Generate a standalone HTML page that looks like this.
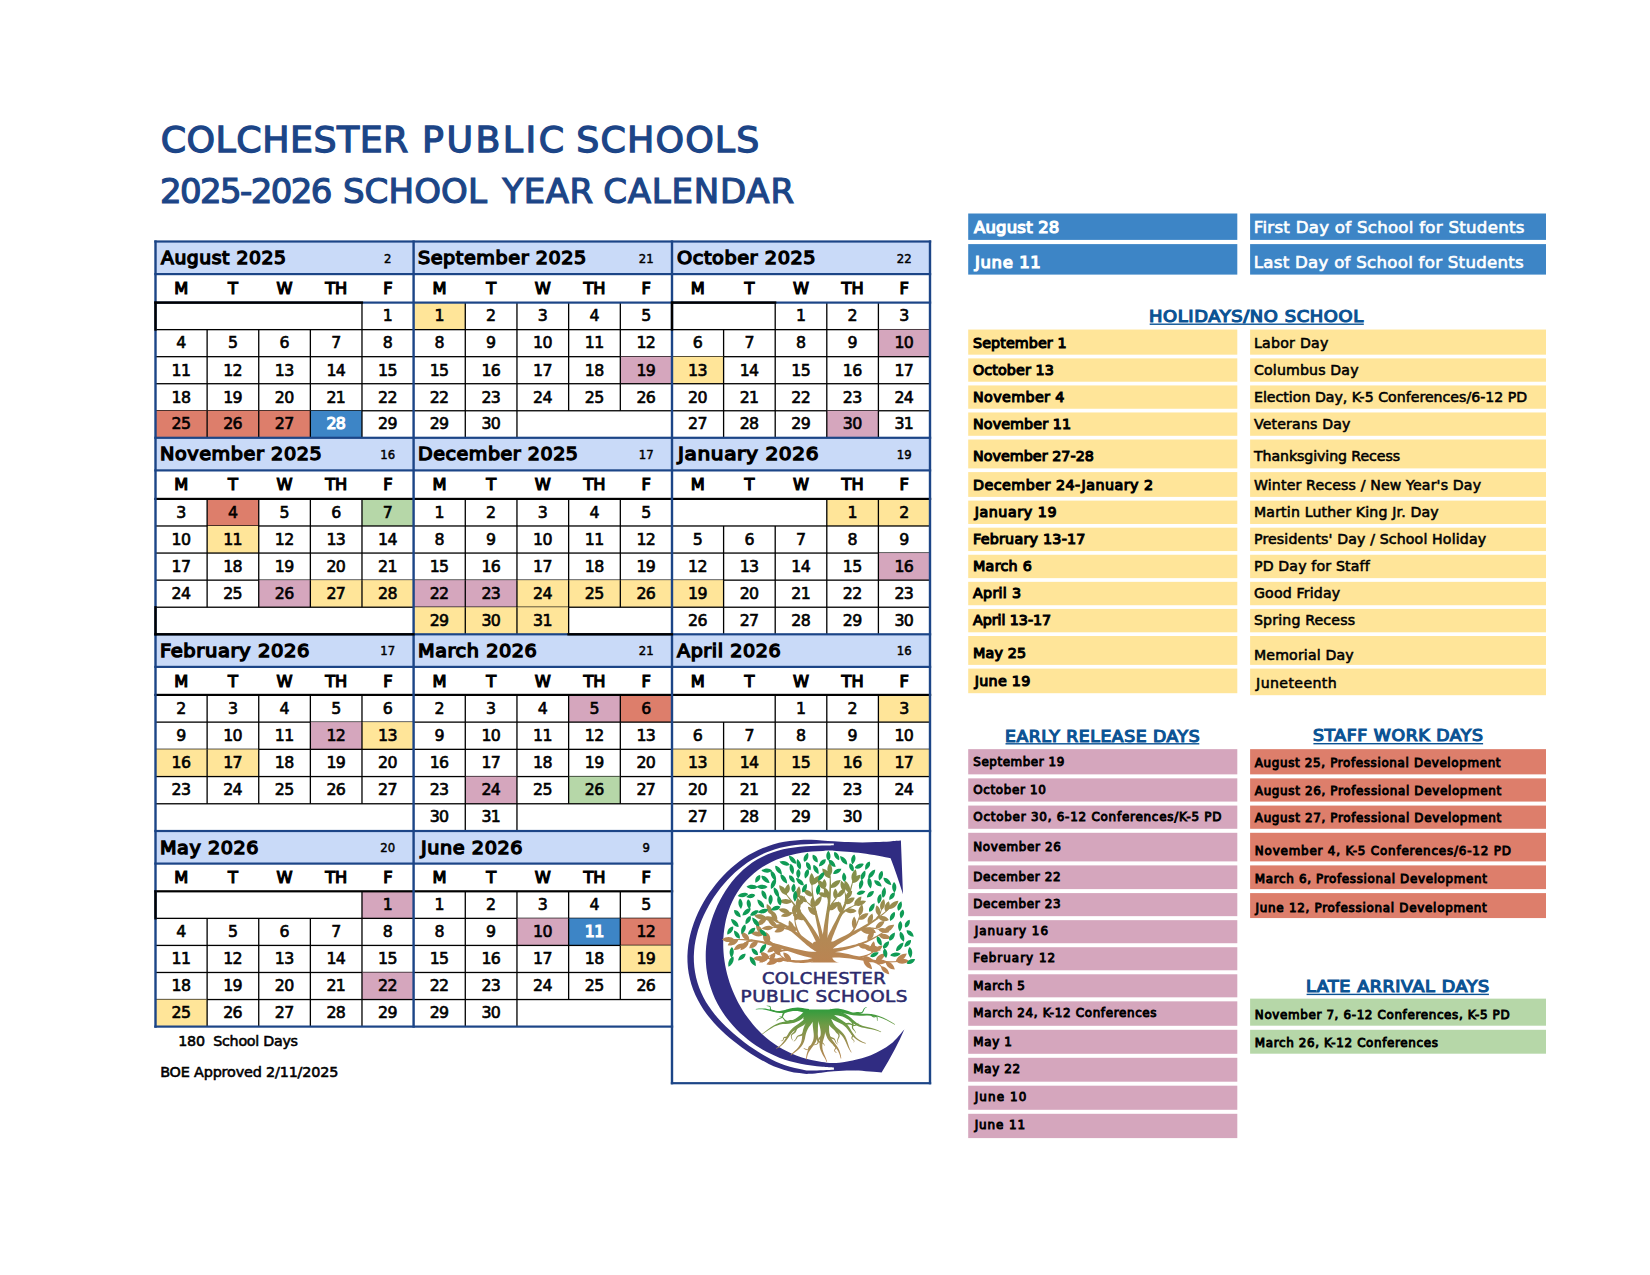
<!DOCTYPE html>
<html lang="en"><head><meta charset="utf-8">
<title>Colchester Public Schools 2025-2026 School Year Calendar</title>
<style>
html,body{margin:0;padding:0;background:#fff;}
body{width:1650px;height:1275px;position:relative;overflow:hidden;font-family:"DejaVu Sans", "Liberation Sans", sans-serif;color:#000;}
#shapes{position:absolute;left:0;top:0;}
.t{position:absolute;white-space:pre;margin:0;padding:0;font-weight:normal;display:block;}
h1.hd{margin:0;padding:0;font-size:0;font-weight:normal;}
.sec{text-decoration-thickness:1.4px;text-underline-offset:1.6px;}
#logo{position:absolute;left:660px;top:820px;}
</style></head><body>
<svg id="shapes" width="1650" height="1275" viewBox="0 0 1650 1275">
<rect x="155.50" y="241.50" width="258.10" height="32.60" fill="#c9daf8"/>
<rect x="155.50" y="328.99" width="258.10" height="1.30" fill="#000"/>
<rect x="361.33" y="302.60" width="1.30" height="27.04" fill="#000"/>
<rect x="155.50" y="356.03" width="258.10" height="1.30" fill="#000"/>
<rect x="206.47" y="329.64" width="1.30" height="27.04" fill="#000"/>
<rect x="258.09" y="329.64" width="1.30" height="27.04" fill="#000"/>
<rect x="309.71" y="329.64" width="1.30" height="27.04" fill="#000"/>
<rect x="361.33" y="329.64" width="1.30" height="27.04" fill="#000"/>
<rect x="155.50" y="383.07" width="258.10" height="1.30" fill="#000"/>
<rect x="206.47" y="356.68" width="1.30" height="27.04" fill="#000"/>
<rect x="258.09" y="356.68" width="1.30" height="27.04" fill="#000"/>
<rect x="309.71" y="356.68" width="1.30" height="27.04" fill="#000"/>
<rect x="361.33" y="356.68" width="1.30" height="27.04" fill="#000"/>
<rect x="155.50" y="410.11" width="258.10" height="1.30" fill="#000"/>
<rect x="206.47" y="383.72" width="1.30" height="27.04" fill="#000"/>
<rect x="258.09" y="383.72" width="1.30" height="27.04" fill="#000"/>
<rect x="309.71" y="383.72" width="1.30" height="27.04" fill="#000"/>
<rect x="361.33" y="383.72" width="1.30" height="27.04" fill="#000"/>
<rect x="155.50" y="410.76" width="51.62" height="27.04" fill="#dd7e6b"/>
<rect x="207.12" y="410.76" width="51.62" height="27.04" fill="#dd7e6b"/>
<rect x="258.74" y="410.76" width="51.62" height="27.04" fill="#dd7e6b"/>
<rect x="310.36" y="410.76" width="51.62" height="27.04" fill="#3d85c6"/>
<rect x="206.47" y="410.76" width="1.30" height="27.04" fill="#000"/>
<rect x="258.09" y="410.76" width="1.30" height="27.04" fill="#000"/>
<rect x="309.71" y="410.76" width="1.30" height="27.04" fill="#000"/>
<rect x="361.33" y="410.76" width="1.30" height="27.04" fill="#000"/>
<rect x="413.60" y="241.50" width="258.40" height="32.60" fill="#c9daf8"/>
<rect x="413.60" y="302.60" width="51.68" height="27.04" fill="#ffe599"/>
<rect x="413.60" y="328.99" width="258.40" height="1.30" fill="#000"/>
<rect x="464.63" y="302.60" width="1.30" height="27.04" fill="#000"/>
<rect x="516.31" y="302.60" width="1.30" height="27.04" fill="#000"/>
<rect x="567.99" y="302.60" width="1.30" height="27.04" fill="#000"/>
<rect x="619.67" y="302.60" width="1.30" height="27.04" fill="#000"/>
<rect x="413.60" y="356.03" width="258.40" height="1.30" fill="#000"/>
<rect x="464.63" y="329.64" width="1.30" height="27.04" fill="#000"/>
<rect x="516.31" y="329.64" width="1.30" height="27.04" fill="#000"/>
<rect x="567.99" y="329.64" width="1.30" height="27.04" fill="#000"/>
<rect x="619.67" y="329.64" width="1.30" height="27.04" fill="#000"/>
<rect x="620.32" y="356.68" width="51.68" height="27.04" fill="#d5a6bd"/>
<rect x="413.60" y="383.07" width="258.40" height="1.30" fill="#000"/>
<rect x="464.63" y="356.68" width="1.30" height="27.04" fill="#000"/>
<rect x="516.31" y="356.68" width="1.30" height="27.04" fill="#000"/>
<rect x="567.99" y="356.68" width="1.30" height="27.04" fill="#000"/>
<rect x="619.67" y="356.68" width="1.30" height="27.04" fill="#000"/>
<rect x="413.60" y="410.11" width="258.40" height="1.30" fill="#000"/>
<rect x="464.63" y="383.72" width="1.30" height="27.04" fill="#000"/>
<rect x="516.31" y="383.72" width="1.30" height="27.04" fill="#000"/>
<rect x="567.99" y="383.72" width="1.30" height="27.04" fill="#000"/>
<rect x="619.67" y="383.72" width="1.30" height="27.04" fill="#000"/>
<rect x="464.63" y="410.76" width="1.30" height="27.04" fill="#000"/>
<rect x="516.31" y="410.76" width="1.30" height="27.04" fill="#000"/>
<rect x="672.00" y="241.50" width="258.00" height="32.60" fill="#c9daf8"/>
<rect x="672.00" y="328.99" width="258.00" height="1.30" fill="#000"/>
<rect x="774.55" y="302.60" width="1.30" height="27.04" fill="#000"/>
<rect x="826.15" y="302.60" width="1.30" height="27.04" fill="#000"/>
<rect x="877.75" y="302.60" width="1.30" height="27.04" fill="#000"/>
<rect x="878.40" y="329.64" width="51.60" height="27.04" fill="#d5a6bd"/>
<rect x="672.00" y="356.03" width="258.00" height="1.30" fill="#000"/>
<rect x="722.95" y="329.64" width="1.30" height="27.04" fill="#000"/>
<rect x="774.55" y="329.64" width="1.30" height="27.04" fill="#000"/>
<rect x="826.15" y="329.64" width="1.30" height="27.04" fill="#000"/>
<rect x="877.75" y="329.64" width="1.30" height="27.04" fill="#000"/>
<rect x="672.00" y="356.68" width="51.60" height="27.04" fill="#ffe599"/>
<rect x="672.00" y="383.07" width="258.00" height="1.30" fill="#000"/>
<rect x="722.95" y="356.68" width="1.30" height="27.04" fill="#000"/>
<rect x="774.55" y="356.68" width="1.30" height="27.04" fill="#000"/>
<rect x="826.15" y="356.68" width="1.30" height="27.04" fill="#000"/>
<rect x="877.75" y="356.68" width="1.30" height="27.04" fill="#000"/>
<rect x="672.00" y="410.11" width="258.00" height="1.30" fill="#000"/>
<rect x="722.95" y="383.72" width="1.30" height="27.04" fill="#000"/>
<rect x="774.55" y="383.72" width="1.30" height="27.04" fill="#000"/>
<rect x="826.15" y="383.72" width="1.30" height="27.04" fill="#000"/>
<rect x="877.75" y="383.72" width="1.30" height="27.04" fill="#000"/>
<rect x="826.80" y="410.76" width="51.60" height="27.04" fill="#d5a6bd"/>
<rect x="722.95" y="410.76" width="1.30" height="27.04" fill="#000"/>
<rect x="774.55" y="410.76" width="1.30" height="27.04" fill="#000"/>
<rect x="826.15" y="410.76" width="1.30" height="27.04" fill="#000"/>
<rect x="877.75" y="410.76" width="1.30" height="27.04" fill="#000"/>
<rect x="155.50" y="437.80" width="258.10" height="32.60" fill="#c9daf8"/>
<rect x="207.12" y="498.90" width="51.62" height="27.08" fill="#dd7e6b"/>
<rect x="361.98" y="498.90" width="51.62" height="27.08" fill="#b6d7a8"/>
<rect x="155.50" y="525.33" width="258.10" height="1.30" fill="#000"/>
<rect x="206.47" y="498.90" width="1.30" height="27.08" fill="#000"/>
<rect x="258.09" y="498.90" width="1.30" height="27.08" fill="#000"/>
<rect x="309.71" y="498.90" width="1.30" height="27.08" fill="#000"/>
<rect x="361.33" y="498.90" width="1.30" height="27.08" fill="#000"/>
<rect x="207.12" y="525.98" width="51.62" height="27.08" fill="#ffe599"/>
<rect x="155.50" y="552.41" width="258.10" height="1.30" fill="#000"/>
<rect x="206.47" y="525.98" width="1.30" height="27.08" fill="#000"/>
<rect x="258.09" y="525.98" width="1.30" height="27.08" fill="#000"/>
<rect x="309.71" y="525.98" width="1.30" height="27.08" fill="#000"/>
<rect x="361.33" y="525.98" width="1.30" height="27.08" fill="#000"/>
<rect x="155.50" y="579.49" width="258.10" height="1.30" fill="#000"/>
<rect x="206.47" y="553.06" width="1.30" height="27.08" fill="#000"/>
<rect x="258.09" y="553.06" width="1.30" height="27.08" fill="#000"/>
<rect x="309.71" y="553.06" width="1.30" height="27.08" fill="#000"/>
<rect x="361.33" y="553.06" width="1.30" height="27.08" fill="#000"/>
<rect x="258.74" y="580.14" width="51.62" height="27.08" fill="#d5a6bd"/>
<rect x="310.36" y="580.14" width="51.62" height="27.08" fill="#ffe599"/>
<rect x="361.98" y="580.14" width="51.62" height="27.08" fill="#ffe599"/>
<rect x="155.50" y="606.57" width="258.10" height="1.30" fill="#000"/>
<rect x="206.47" y="580.14" width="1.30" height="27.08" fill="#000"/>
<rect x="258.09" y="580.14" width="1.30" height="27.08" fill="#000"/>
<rect x="309.71" y="580.14" width="1.30" height="27.08" fill="#000"/>
<rect x="361.33" y="580.14" width="1.30" height="27.08" fill="#000"/>
<rect x="413.60" y="437.80" width="258.40" height="32.60" fill="#c9daf8"/>
<rect x="413.60" y="525.33" width="258.40" height="1.30" fill="#000"/>
<rect x="464.63" y="498.90" width="1.30" height="27.08" fill="#000"/>
<rect x="516.31" y="498.90" width="1.30" height="27.08" fill="#000"/>
<rect x="567.99" y="498.90" width="1.30" height="27.08" fill="#000"/>
<rect x="619.67" y="498.90" width="1.30" height="27.08" fill="#000"/>
<rect x="413.60" y="552.41" width="258.40" height="1.30" fill="#000"/>
<rect x="464.63" y="525.98" width="1.30" height="27.08" fill="#000"/>
<rect x="516.31" y="525.98" width="1.30" height="27.08" fill="#000"/>
<rect x="567.99" y="525.98" width="1.30" height="27.08" fill="#000"/>
<rect x="619.67" y="525.98" width="1.30" height="27.08" fill="#000"/>
<rect x="413.60" y="579.49" width="258.40" height="1.30" fill="#000"/>
<rect x="464.63" y="553.06" width="1.30" height="27.08" fill="#000"/>
<rect x="516.31" y="553.06" width="1.30" height="27.08" fill="#000"/>
<rect x="567.99" y="553.06" width="1.30" height="27.08" fill="#000"/>
<rect x="619.67" y="553.06" width="1.30" height="27.08" fill="#000"/>
<rect x="413.60" y="580.14" width="51.68" height="27.08" fill="#d5a6bd"/>
<rect x="465.28" y="580.14" width="51.68" height="27.08" fill="#d5a6bd"/>
<rect x="516.96" y="580.14" width="51.68" height="27.08" fill="#ffe599"/>
<rect x="568.64" y="580.14" width="51.68" height="27.08" fill="#ffe599"/>
<rect x="620.32" y="580.14" width="51.68" height="27.08" fill="#ffe599"/>
<rect x="413.60" y="606.57" width="258.40" height="1.30" fill="#000"/>
<rect x="464.63" y="580.14" width="1.30" height="27.08" fill="#000"/>
<rect x="516.31" y="580.14" width="1.30" height="27.08" fill="#000"/>
<rect x="567.99" y="580.14" width="1.30" height="27.08" fill="#000"/>
<rect x="619.67" y="580.14" width="1.30" height="27.08" fill="#000"/>
<rect x="413.60" y="607.22" width="51.68" height="27.08" fill="#ffe599"/>
<rect x="465.28" y="607.22" width="51.68" height="27.08" fill="#ffe599"/>
<rect x="516.96" y="607.22" width="51.68" height="27.08" fill="#ffe599"/>
<rect x="464.63" y="607.22" width="1.30" height="27.08" fill="#000"/>
<rect x="516.31" y="607.22" width="1.30" height="27.08" fill="#000"/>
<rect x="567.99" y="607.22" width="1.30" height="27.08" fill="#000"/>
<rect x="672.00" y="437.80" width="258.00" height="32.60" fill="#c9daf8"/>
<rect x="826.80" y="498.90" width="51.60" height="27.08" fill="#ffe599"/>
<rect x="878.40" y="498.90" width="51.60" height="27.08" fill="#ffe599"/>
<rect x="672.00" y="525.33" width="258.00" height="1.30" fill="#000"/>
<rect x="826.15" y="498.90" width="1.30" height="27.08" fill="#000"/>
<rect x="877.75" y="498.90" width="1.30" height="27.08" fill="#000"/>
<rect x="672.00" y="552.41" width="258.00" height="1.30" fill="#000"/>
<rect x="722.95" y="525.98" width="1.30" height="27.08" fill="#000"/>
<rect x="774.55" y="525.98" width="1.30" height="27.08" fill="#000"/>
<rect x="826.15" y="525.98" width="1.30" height="27.08" fill="#000"/>
<rect x="877.75" y="525.98" width="1.30" height="27.08" fill="#000"/>
<rect x="878.40" y="553.06" width="51.60" height="27.08" fill="#d5a6bd"/>
<rect x="672.00" y="579.49" width="258.00" height="1.30" fill="#000"/>
<rect x="722.95" y="553.06" width="1.30" height="27.08" fill="#000"/>
<rect x="774.55" y="553.06" width="1.30" height="27.08" fill="#000"/>
<rect x="826.15" y="553.06" width="1.30" height="27.08" fill="#000"/>
<rect x="877.75" y="553.06" width="1.30" height="27.08" fill="#000"/>
<rect x="672.00" y="580.14" width="51.60" height="27.08" fill="#ffe599"/>
<rect x="672.00" y="606.57" width="258.00" height="1.30" fill="#000"/>
<rect x="722.95" y="580.14" width="1.30" height="27.08" fill="#000"/>
<rect x="774.55" y="580.14" width="1.30" height="27.08" fill="#000"/>
<rect x="826.15" y="580.14" width="1.30" height="27.08" fill="#000"/>
<rect x="877.75" y="580.14" width="1.30" height="27.08" fill="#000"/>
<rect x="722.95" y="607.22" width="1.30" height="27.08" fill="#000"/>
<rect x="774.55" y="607.22" width="1.30" height="27.08" fill="#000"/>
<rect x="826.15" y="607.22" width="1.30" height="27.08" fill="#000"/>
<rect x="877.75" y="607.22" width="1.30" height="27.08" fill="#000"/>
<rect x="155.50" y="634.30" width="258.10" height="32.60" fill="#c9daf8"/>
<rect x="155.50" y="721.47" width="258.10" height="1.30" fill="#000"/>
<rect x="206.47" y="694.90" width="1.30" height="27.22" fill="#000"/>
<rect x="258.09" y="694.90" width="1.30" height="27.22" fill="#000"/>
<rect x="309.71" y="694.90" width="1.30" height="27.22" fill="#000"/>
<rect x="361.33" y="694.90" width="1.30" height="27.22" fill="#000"/>
<rect x="310.36" y="722.12" width="51.62" height="27.22" fill="#d5a6bd"/>
<rect x="361.98" y="722.12" width="51.62" height="27.22" fill="#ffe599"/>
<rect x="155.50" y="748.69" width="258.10" height="1.30" fill="#000"/>
<rect x="206.47" y="722.12" width="1.30" height="27.22" fill="#000"/>
<rect x="258.09" y="722.12" width="1.30" height="27.22" fill="#000"/>
<rect x="309.71" y="722.12" width="1.30" height="27.22" fill="#000"/>
<rect x="361.33" y="722.12" width="1.30" height="27.22" fill="#000"/>
<rect x="155.50" y="749.34" width="51.62" height="27.22" fill="#ffe599"/>
<rect x="207.12" y="749.34" width="51.62" height="27.22" fill="#ffe599"/>
<rect x="155.50" y="775.91" width="258.10" height="1.30" fill="#000"/>
<rect x="206.47" y="749.34" width="1.30" height="27.22" fill="#000"/>
<rect x="258.09" y="749.34" width="1.30" height="27.22" fill="#000"/>
<rect x="309.71" y="749.34" width="1.30" height="27.22" fill="#000"/>
<rect x="361.33" y="749.34" width="1.30" height="27.22" fill="#000"/>
<rect x="155.50" y="803.13" width="258.10" height="1.30" fill="#000"/>
<rect x="206.47" y="776.56" width="1.30" height="27.22" fill="#000"/>
<rect x="258.09" y="776.56" width="1.30" height="27.22" fill="#000"/>
<rect x="309.71" y="776.56" width="1.30" height="27.22" fill="#000"/>
<rect x="361.33" y="776.56" width="1.30" height="27.22" fill="#000"/>
<rect x="413.60" y="634.30" width="258.40" height="32.60" fill="#c9daf8"/>
<rect x="568.64" y="694.90" width="51.68" height="27.22" fill="#d5a6bd"/>
<rect x="620.32" y="694.90" width="51.68" height="27.22" fill="#dd7e6b"/>
<rect x="413.60" y="721.47" width="258.40" height="1.30" fill="#000"/>
<rect x="464.63" y="694.90" width="1.30" height="27.22" fill="#000"/>
<rect x="516.31" y="694.90" width="1.30" height="27.22" fill="#000"/>
<rect x="567.99" y="694.90" width="1.30" height="27.22" fill="#000"/>
<rect x="619.67" y="694.90" width="1.30" height="27.22" fill="#000"/>
<rect x="413.60" y="748.69" width="258.40" height="1.30" fill="#000"/>
<rect x="464.63" y="722.12" width="1.30" height="27.22" fill="#000"/>
<rect x="516.31" y="722.12" width="1.30" height="27.22" fill="#000"/>
<rect x="567.99" y="722.12" width="1.30" height="27.22" fill="#000"/>
<rect x="619.67" y="722.12" width="1.30" height="27.22" fill="#000"/>
<rect x="413.60" y="775.91" width="258.40" height="1.30" fill="#000"/>
<rect x="464.63" y="749.34" width="1.30" height="27.22" fill="#000"/>
<rect x="516.31" y="749.34" width="1.30" height="27.22" fill="#000"/>
<rect x="567.99" y="749.34" width="1.30" height="27.22" fill="#000"/>
<rect x="619.67" y="749.34" width="1.30" height="27.22" fill="#000"/>
<rect x="465.28" y="776.56" width="51.68" height="27.22" fill="#d5a6bd"/>
<rect x="568.64" y="776.56" width="51.68" height="27.22" fill="#b6d7a8"/>
<rect x="413.60" y="803.13" width="258.40" height="1.30" fill="#000"/>
<rect x="464.63" y="776.56" width="1.30" height="27.22" fill="#000"/>
<rect x="516.31" y="776.56" width="1.30" height="27.22" fill="#000"/>
<rect x="567.99" y="776.56" width="1.30" height="27.22" fill="#000"/>
<rect x="619.67" y="776.56" width="1.30" height="27.22" fill="#000"/>
<rect x="464.63" y="803.78" width="1.30" height="27.22" fill="#000"/>
<rect x="516.31" y="803.78" width="1.30" height="27.22" fill="#000"/>
<rect x="672.00" y="634.30" width="258.00" height="32.60" fill="#c9daf8"/>
<rect x="878.40" y="694.90" width="51.60" height="27.22" fill="#ffe599"/>
<rect x="672.00" y="721.47" width="258.00" height="1.30" fill="#000"/>
<rect x="774.55" y="694.90" width="1.30" height="27.22" fill="#000"/>
<rect x="826.15" y="694.90" width="1.30" height="27.22" fill="#000"/>
<rect x="877.75" y="694.90" width="1.30" height="27.22" fill="#000"/>
<rect x="672.00" y="748.69" width="258.00" height="1.30" fill="#000"/>
<rect x="722.95" y="722.12" width="1.30" height="27.22" fill="#000"/>
<rect x="774.55" y="722.12" width="1.30" height="27.22" fill="#000"/>
<rect x="826.15" y="722.12" width="1.30" height="27.22" fill="#000"/>
<rect x="877.75" y="722.12" width="1.30" height="27.22" fill="#000"/>
<rect x="672.00" y="749.34" width="51.60" height="27.22" fill="#ffe599"/>
<rect x="723.60" y="749.34" width="51.60" height="27.22" fill="#ffe599"/>
<rect x="775.20" y="749.34" width="51.60" height="27.22" fill="#ffe599"/>
<rect x="826.80" y="749.34" width="51.60" height="27.22" fill="#ffe599"/>
<rect x="878.40" y="749.34" width="51.60" height="27.22" fill="#ffe599"/>
<rect x="672.00" y="775.91" width="258.00" height="1.30" fill="#000"/>
<rect x="722.95" y="749.34" width="1.30" height="27.22" fill="#000"/>
<rect x="774.55" y="749.34" width="1.30" height="27.22" fill="#000"/>
<rect x="826.15" y="749.34" width="1.30" height="27.22" fill="#000"/>
<rect x="877.75" y="749.34" width="1.30" height="27.22" fill="#000"/>
<rect x="672.00" y="803.13" width="258.00" height="1.30" fill="#000"/>
<rect x="722.95" y="776.56" width="1.30" height="27.22" fill="#000"/>
<rect x="774.55" y="776.56" width="1.30" height="27.22" fill="#000"/>
<rect x="826.15" y="776.56" width="1.30" height="27.22" fill="#000"/>
<rect x="877.75" y="776.56" width="1.30" height="27.22" fill="#000"/>
<rect x="722.95" y="803.78" width="1.30" height="27.22" fill="#000"/>
<rect x="774.55" y="803.78" width="1.30" height="27.22" fill="#000"/>
<rect x="826.15" y="803.78" width="1.30" height="27.22" fill="#000"/>
<rect x="877.75" y="803.78" width="1.30" height="27.22" fill="#000"/>
<rect x="155.50" y="831.00" width="258.10" height="32.60" fill="#c9daf8"/>
<rect x="361.98" y="891.30" width="51.62" height="27.06" fill="#d5a6bd"/>
<rect x="155.50" y="917.71" width="258.10" height="1.30" fill="#000"/>
<rect x="361.33" y="891.30" width="1.30" height="27.06" fill="#000"/>
<rect x="155.50" y="944.77" width="258.10" height="1.30" fill="#000"/>
<rect x="206.47" y="918.36" width="1.30" height="27.06" fill="#000"/>
<rect x="258.09" y="918.36" width="1.30" height="27.06" fill="#000"/>
<rect x="309.71" y="918.36" width="1.30" height="27.06" fill="#000"/>
<rect x="361.33" y="918.36" width="1.30" height="27.06" fill="#000"/>
<rect x="155.50" y="971.83" width="258.10" height="1.30" fill="#000"/>
<rect x="206.47" y="945.42" width="1.30" height="27.06" fill="#000"/>
<rect x="258.09" y="945.42" width="1.30" height="27.06" fill="#000"/>
<rect x="309.71" y="945.42" width="1.30" height="27.06" fill="#000"/>
<rect x="361.33" y="945.42" width="1.30" height="27.06" fill="#000"/>
<rect x="361.98" y="972.48" width="51.62" height="27.06" fill="#d5a6bd"/>
<rect x="155.50" y="998.89" width="258.10" height="1.30" fill="#000"/>
<rect x="206.47" y="972.48" width="1.30" height="27.06" fill="#000"/>
<rect x="258.09" y="972.48" width="1.30" height="27.06" fill="#000"/>
<rect x="309.71" y="972.48" width="1.30" height="27.06" fill="#000"/>
<rect x="361.33" y="972.48" width="1.30" height="27.06" fill="#000"/>
<rect x="155.50" y="999.54" width="51.62" height="27.06" fill="#ffe599"/>
<rect x="206.47" y="999.54" width="1.30" height="27.06" fill="#000"/>
<rect x="258.09" y="999.54" width="1.30" height="27.06" fill="#000"/>
<rect x="309.71" y="999.54" width="1.30" height="27.06" fill="#000"/>
<rect x="361.33" y="999.54" width="1.30" height="27.06" fill="#000"/>
<rect x="413.60" y="831.00" width="258.40" height="32.60" fill="#c9daf8"/>
<rect x="413.60" y="917.71" width="258.40" height="1.30" fill="#000"/>
<rect x="464.63" y="891.30" width="1.30" height="27.06" fill="#000"/>
<rect x="516.31" y="891.30" width="1.30" height="27.06" fill="#000"/>
<rect x="567.99" y="891.30" width="1.30" height="27.06" fill="#000"/>
<rect x="619.67" y="891.30" width="1.30" height="27.06" fill="#000"/>
<rect x="516.96" y="918.36" width="51.68" height="27.06" fill="#d5a6bd"/>
<rect x="568.64" y="918.36" width="51.68" height="27.06" fill="#3d85c6"/>
<rect x="620.32" y="918.36" width="51.68" height="27.06" fill="#dd7e6b"/>
<rect x="413.60" y="944.77" width="258.40" height="1.30" fill="#000"/>
<rect x="464.63" y="918.36" width="1.30" height="27.06" fill="#000"/>
<rect x="516.31" y="918.36" width="1.30" height="27.06" fill="#000"/>
<rect x="567.99" y="918.36" width="1.30" height="27.06" fill="#000"/>
<rect x="619.67" y="918.36" width="1.30" height="27.06" fill="#000"/>
<rect x="620.32" y="945.42" width="51.68" height="27.06" fill="#ffe599"/>
<rect x="413.60" y="971.83" width="258.40" height="1.30" fill="#000"/>
<rect x="464.63" y="945.42" width="1.30" height="27.06" fill="#000"/>
<rect x="516.31" y="945.42" width="1.30" height="27.06" fill="#000"/>
<rect x="567.99" y="945.42" width="1.30" height="27.06" fill="#000"/>
<rect x="619.67" y="945.42" width="1.30" height="27.06" fill="#000"/>
<rect x="413.60" y="998.89" width="258.40" height="1.30" fill="#000"/>
<rect x="464.63" y="972.48" width="1.30" height="27.06" fill="#000"/>
<rect x="516.31" y="972.48" width="1.30" height="27.06" fill="#000"/>
<rect x="567.99" y="972.48" width="1.30" height="27.06" fill="#000"/>
<rect x="619.67" y="972.48" width="1.30" height="27.06" fill="#000"/>
<rect x="464.63" y="999.54" width="1.30" height="27.06" fill="#000"/>
<rect x="516.31" y="999.54" width="1.30" height="27.06" fill="#000"/>
<rect x="154.30" y="240.40" width="776.90" height="2.20" fill="#1c4587"/>
<rect x="154.30" y="273.00" width="776.90" height="2.20" fill="#1c4587"/>
<rect x="154.30" y="301.50" width="776.90" height="2.20" fill="#1c4587"/>
<rect x="154.30" y="436.70" width="776.90" height="2.20" fill="#1c4587"/>
<rect x="154.30" y="469.30" width="776.90" height="2.20" fill="#1c4587"/>
<rect x="154.30" y="497.80" width="776.90" height="2.20" fill="#000"/>
<rect x="154.30" y="633.20" width="776.90" height="2.20" fill="#1c4587"/>
<rect x="154.30" y="665.80" width="776.90" height="2.20" fill="#1c4587"/>
<rect x="154.30" y="693.80" width="776.90" height="2.20" fill="#000"/>
<rect x="154.30" y="829.90" width="776.90" height="2.20" fill="#1c4587"/>
<rect x="154.30" y="862.50" width="518.90" height="2.20" fill="#1c4587"/>
<rect x="154.30" y="890.20" width="518.90" height="2.20" fill="#000"/>
<rect x="154.30" y="1025.50" width="518.90" height="2.20" fill="#1c4587"/>
<rect x="670.80" y="1082.10" width="260.40" height="2.20" fill="#1c4587"/>
<rect x="154.30" y="240.40" width="2.40" height="787.30" fill="#1c4587"/>
<rect x="412.40" y="240.40" width="2.40" height="787.30" fill="#1c4587"/>
<rect x="670.80" y="240.40" width="2.40" height="843.90" fill="#1c4587"/>
<rect x="928.80" y="240.40" width="2.40" height="843.90" fill="#1c4587"/>
<rect x="154.40" y="301.40" width="208.68" height="2.40" fill="#000"/>
<rect x="154.30" y="301.50" width="2.40" height="29.24" fill="#000"/>
<rect x="670.90" y="301.40" width="105.44" height="2.40" fill="#000"/>
<rect x="670.80" y="301.50" width="2.40" height="29.24" fill="#000"/>
<rect x="154.30" y="606.12" width="2.40" height="29.28" fill="#000"/>
<rect x="154.40" y="633.10" width="260.30" height="2.40" fill="#000"/>
<rect x="567.36" y="633.10" width="105.74" height="2.40" fill="#000"/>
<rect x="154.30" y="890.20" width="2.40" height="29.26" fill="#000"/>
<rect x="968.20" y="213.50" width="269.10" height="26.40" fill="#3d85c6"/>
<rect x="1250.10" y="213.50" width="295.90" height="26.40" fill="#3d85c6"/>
<rect x="968.20" y="244.10" width="269.10" height="30.50" fill="#3d85c6"/>
<rect x="1250.10" y="244.10" width="295.90" height="30.50" fill="#3d85c6"/>
<rect x="1149.70" y="323.50" width="214.10" height="1.40" fill="#0b5394"/>
<rect x="968.20" y="329.54" width="269.10" height="25.14" fill="#ffe599"/>
<rect x="1250.10" y="329.54" width="295.90" height="25.14" fill="#ffe599"/>
<rect x="968.20" y="358.38" width="269.10" height="23.34" fill="#ffe599"/>
<rect x="1250.10" y="358.38" width="295.90" height="23.34" fill="#ffe599"/>
<rect x="968.20" y="385.42" width="269.10" height="23.34" fill="#ffe599"/>
<rect x="1250.10" y="385.42" width="295.90" height="23.34" fill="#ffe599"/>
<rect x="968.20" y="412.46" width="269.10" height="23.34" fill="#ffe599"/>
<rect x="1250.10" y="412.46" width="295.90" height="23.34" fill="#ffe599"/>
<rect x="968.20" y="439.50" width="269.10" height="28.90" fill="#ffe599"/>
<rect x="1250.10" y="439.50" width="295.90" height="28.90" fill="#ffe599"/>
<rect x="968.20" y="472.10" width="269.10" height="24.80" fill="#ffe599"/>
<rect x="1250.10" y="472.10" width="295.90" height="24.80" fill="#ffe599"/>
<rect x="968.20" y="500.60" width="269.10" height="23.38" fill="#ffe599"/>
<rect x="1250.10" y="500.60" width="295.90" height="23.38" fill="#ffe599"/>
<rect x="968.20" y="527.68" width="269.10" height="23.38" fill="#ffe599"/>
<rect x="1250.10" y="527.68" width="295.90" height="23.38" fill="#ffe599"/>
<rect x="968.20" y="554.76" width="269.10" height="23.38" fill="#ffe599"/>
<rect x="1250.10" y="554.76" width="295.90" height="23.38" fill="#ffe599"/>
<rect x="968.20" y="581.84" width="269.10" height="23.38" fill="#ffe599"/>
<rect x="1250.10" y="581.84" width="295.90" height="23.38" fill="#ffe599"/>
<rect x="968.20" y="608.92" width="269.10" height="23.38" fill="#ffe599"/>
<rect x="1250.10" y="608.92" width="295.90" height="23.38" fill="#ffe599"/>
<rect x="968.20" y="636.00" width="269.10" height="28.90" fill="#ffe599"/>
<rect x="1250.10" y="636.00" width="295.90" height="28.90" fill="#ffe599"/>
<rect x="968.20" y="668.60" width="269.10" height="24.60" fill="#ffe599"/>
<rect x="1250.10" y="668.60" width="295.90" height="26.60" fill="#ffe599"/>
<rect x="1005.50" y="743.10" width="193.80" height="1.40" fill="#0b5394"/>
<rect x="968.20" y="749.14" width="269.10" height="25.22" fill="#d5a6bd"/>
<rect x="968.20" y="778.36" width="269.10" height="23.22" fill="#d5a6bd"/>
<rect x="968.20" y="805.58" width="269.10" height="23.22" fill="#d5a6bd"/>
<rect x="968.20" y="832.80" width="269.10" height="28.60" fill="#d5a6bd"/>
<rect x="968.20" y="865.40" width="269.10" height="23.70" fill="#d5a6bd"/>
<rect x="968.20" y="893.10" width="269.10" height="23.06" fill="#d5a6bd"/>
<rect x="968.20" y="920.16" width="269.10" height="23.06" fill="#d5a6bd"/>
<rect x="968.20" y="947.22" width="269.10" height="23.06" fill="#d5a6bd"/>
<rect x="968.20" y="974.28" width="269.10" height="23.06" fill="#d5a6bd"/>
<rect x="968.20" y="1001.34" width="269.10" height="24.46" fill="#d5a6bd"/>
<rect x="968.20" y="1029.80" width="269.10" height="24.00" fill="#d5a6bd"/>
<rect x="968.20" y="1057.80" width="269.10" height="23.90" fill="#d5a6bd"/>
<rect x="968.20" y="1085.70" width="269.10" height="24.10" fill="#d5a6bd"/>
<rect x="968.20" y="1113.80" width="269.10" height="24.30" fill="#d5a6bd"/>
<rect x="1313.40" y="743.00" width="169.70" height="1.40" fill="#0b5394"/>
<rect x="1250.10" y="749.14" width="295.90" height="25.22" fill="#dd7e6b"/>
<rect x="1250.10" y="778.36" width="295.90" height="23.22" fill="#dd7e6b"/>
<rect x="1250.10" y="805.58" width="295.90" height="23.22" fill="#dd7e6b"/>
<rect x="1250.10" y="832.80" width="295.90" height="28.60" fill="#dd7e6b"/>
<rect x="1250.10" y="865.40" width="295.90" height="23.70" fill="#dd7e6b"/>
<rect x="1250.10" y="893.10" width="295.90" height="24.96" fill="#dd7e6b"/>
<rect x="1306.60" y="993.70" width="182.30" height="1.40" fill="#0b5394"/>
<rect x="1250.10" y="998.64" width="295.90" height="27.06" fill="#b6d7a8"/>
<rect x="1250.10" y="1029.80" width="295.90" height="23.90" fill="#b6d7a8"/>
</svg>
<main>
<h1 class="hd"><span class="t ttl" style="top:118px;line-height:43px;font-size:36.35px;letter-spacing:0.49px;color:#1c4587;-webkit-text-stroke:1.31px #1c4587;left:160.66px;">COLCHESTER</span> <span class="t ttl" style="top:118px;line-height:43px;font-size:36.35px;letter-spacing:2.47px;color:#1c4587;-webkit-text-stroke:1.31px #1c4587;left:422.02px;">PUBLIC</span> <span class="t ttl" style="top:118px;line-height:43px;font-size:36.35px;letter-spacing:1.13px;color:#1c4587;-webkit-text-stroke:1.31px #1c4587;left:576.29px;">SCHOOLS</span> <span class="t ttl" style="top:171px;line-height:40px;font-size:34.02px;letter-spacing:-1.63px;color:#1c4587;-webkit-text-stroke:1.22px #1c4587;left:160.06px;">2025-2026</span> <span class="t ttl" style="top:171px;line-height:40px;font-size:34.02px;letter-spacing:0.11px;color:#1c4587;-webkit-text-stroke:1.22px #1c4587;left:342.90px;">SCHOOL</span> <span class="t ttl" style="top:171px;line-height:40px;font-size:34.02px;letter-spacing:0.52px;color:#1c4587;-webkit-text-stroke:1.22px #1c4587;left:502.41px;">YEAR</span> <span class="t ttl" style="top:171px;line-height:40px;font-size:34.02px;letter-spacing:0.77px;color:#1c4587;-webkit-text-stroke:1.22px #1c4587;left:603.24px;">CALENDAR</span></h1>
<section class="cal" aria-label="Monthly calendars">
<h2 class="t mh" style="top:247px;line-height:21px;font-size:17.97px;letter-spacing:0.54px;-webkit-text-stroke:1.35px #000;transform:scaleX(1.0448);transform-origin:0 0;left:160.69px;">August 2025</h2>
<div class="t" style="top:252px;line-height:14px;font-size:11.66px;-webkit-text-stroke:0.47px #000;left:367.79px;width:40px;text-align:center;">2</div>
<div class="t dw" style="top:279px;line-height:19px;font-size:16.19px;-webkit-text-stroke:1.21px #000;left:159.31px;width:44px;text-align:center;">M</div>
<div class="t dw" style="top:279px;line-height:19px;font-size:16.19px;-webkit-text-stroke:1.21px #000;left:210.93px;width:44px;text-align:center;">T</div>
<div class="t dw" style="top:279px;line-height:19px;font-size:16.19px;-webkit-text-stroke:1.21px #000;left:262.55px;width:44px;text-align:center;">W</div>
<div class="t dw" style="top:279px;line-height:19px;font-size:16.19px;-webkit-text-stroke:1.21px #000;left:314.17px;width:44px;text-align:center;">TH</div>
<div class="t dw" style="top:279px;line-height:19px;font-size:16.19px;-webkit-text-stroke:1.21px #000;left:365.79px;width:44px;text-align:center;">F</div>
<div class="t dg" style="top:306px;line-height:19px;font-size:15.78px;letter-spacing:-0.63px;-webkit-text-stroke:0.63px #000;left:365.47px;width:44px;text-align:center;">1</div>
<div class="t dg" style="top:333px;line-height:19px;font-size:15.78px;letter-spacing:-0.63px;-webkit-text-stroke:0.63px #000;left:158.99px;width:44px;text-align:center;">4</div>
<div class="t dg" style="top:333px;line-height:19px;font-size:15.78px;letter-spacing:-0.63px;-webkit-text-stroke:0.63px #000;left:210.61px;width:44px;text-align:center;">5</div>
<div class="t dg" style="top:333px;line-height:19px;font-size:15.78px;letter-spacing:-0.63px;-webkit-text-stroke:0.63px #000;left:262.23px;width:44px;text-align:center;">6</div>
<div class="t dg" style="top:333px;line-height:19px;font-size:15.78px;letter-spacing:-0.63px;-webkit-text-stroke:0.63px #000;left:313.85px;width:44px;text-align:center;">7</div>
<div class="t dg" style="top:333px;line-height:19px;font-size:15.78px;letter-spacing:-0.63px;-webkit-text-stroke:0.63px #000;left:365.47px;width:44px;text-align:center;">8</div>
<div class="t dg" style="top:361px;line-height:19px;font-size:15.78px;letter-spacing:-0.63px;-webkit-text-stroke:0.63px #000;left:158.99px;width:44px;text-align:center;">11</div>
<div class="t dg" style="top:361px;line-height:19px;font-size:15.78px;letter-spacing:-0.63px;-webkit-text-stroke:0.63px #000;left:210.61px;width:44px;text-align:center;">12</div>
<div class="t dg" style="top:361px;line-height:19px;font-size:15.78px;letter-spacing:-0.63px;-webkit-text-stroke:0.63px #000;left:262.23px;width:44px;text-align:center;">13</div>
<div class="t dg" style="top:361px;line-height:19px;font-size:15.78px;letter-spacing:-0.63px;-webkit-text-stroke:0.63px #000;left:313.85px;width:44px;text-align:center;">14</div>
<div class="t dg" style="top:361px;line-height:19px;font-size:15.78px;letter-spacing:-0.63px;-webkit-text-stroke:0.63px #000;left:365.47px;width:44px;text-align:center;">15</div>
<div class="t dg" style="top:388px;line-height:19px;font-size:15.78px;letter-spacing:-0.63px;-webkit-text-stroke:0.63px #000;left:158.99px;width:44px;text-align:center;">18</div>
<div class="t dg" style="top:388px;line-height:19px;font-size:15.78px;letter-spacing:-0.63px;-webkit-text-stroke:0.63px #000;left:210.61px;width:44px;text-align:center;">19</div>
<div class="t dg" style="top:388px;line-height:19px;font-size:15.78px;letter-spacing:-0.63px;-webkit-text-stroke:0.63px #000;left:262.23px;width:44px;text-align:center;">20</div>
<div class="t dg" style="top:388px;line-height:19px;font-size:15.78px;letter-spacing:-0.63px;-webkit-text-stroke:0.63px #000;left:313.85px;width:44px;text-align:center;">21</div>
<div class="t dg" style="top:388px;line-height:19px;font-size:15.78px;letter-spacing:-0.63px;-webkit-text-stroke:0.63px #000;left:365.47px;width:44px;text-align:center;">22</div>
<div class="t dg" style="top:414px;line-height:19px;font-size:15.78px;letter-spacing:-0.63px;-webkit-text-stroke:0.63px #000;left:158.99px;width:44px;text-align:center;">25</div>
<div class="t dg" style="top:414px;line-height:19px;font-size:15.78px;letter-spacing:-0.63px;-webkit-text-stroke:0.63px #000;left:210.61px;width:44px;text-align:center;">26</div>
<div class="t dg" style="top:414px;line-height:19px;font-size:15.78px;letter-spacing:-0.63px;-webkit-text-stroke:0.63px #000;left:262.23px;width:44px;text-align:center;">27</div>
<div class="t dg" style="top:414px;line-height:19px;font-size:15.78px;letter-spacing:-0.63px;color:#fff;-webkit-text-stroke:1.18px #fff;left:313.85px;width:44px;text-align:center;">28</div>
<div class="t dg" style="top:414px;line-height:19px;font-size:15.78px;letter-spacing:-0.63px;-webkit-text-stroke:0.63px #000;left:365.47px;width:44px;text-align:center;">29</div>
<h2 class="t mh" style="top:247px;line-height:21px;font-size:17.97px;letter-spacing:0.54px;-webkit-text-stroke:1.35px #000;transform:scaleX(1.0675);transform-origin:0 0;left:417.63px;">September 2025</h2>
<div class="t" style="top:252px;line-height:14px;font-size:11.66px;-webkit-text-stroke:0.47px #000;left:626.16px;width:40px;text-align:center;">21</div>
<div class="t dw" style="top:279px;line-height:19px;font-size:16.19px;-webkit-text-stroke:1.21px #000;left:417.44px;width:44px;text-align:center;">M</div>
<div class="t dw" style="top:279px;line-height:19px;font-size:16.19px;-webkit-text-stroke:1.21px #000;left:469.12px;width:44px;text-align:center;">T</div>
<div class="t dw" style="top:279px;line-height:19px;font-size:16.19px;-webkit-text-stroke:1.21px #000;left:520.80px;width:44px;text-align:center;">W</div>
<div class="t dw" style="top:279px;line-height:19px;font-size:16.19px;-webkit-text-stroke:1.21px #000;left:572.48px;width:44px;text-align:center;">TH</div>
<div class="t dw" style="top:279px;line-height:19px;font-size:16.19px;-webkit-text-stroke:1.21px #000;left:624.16px;width:44px;text-align:center;">F</div>
<div class="t dg" style="top:306px;line-height:19px;font-size:15.78px;letter-spacing:-0.63px;-webkit-text-stroke:0.63px #000;left:417.12px;width:44px;text-align:center;">1</div>
<div class="t dg" style="top:306px;line-height:19px;font-size:15.78px;letter-spacing:-0.63px;-webkit-text-stroke:0.63px #000;left:468.80px;width:44px;text-align:center;">2</div>
<div class="t dg" style="top:306px;line-height:19px;font-size:15.78px;letter-spacing:-0.63px;-webkit-text-stroke:0.63px #000;left:520.48px;width:44px;text-align:center;">3</div>
<div class="t dg" style="top:306px;line-height:19px;font-size:15.78px;letter-spacing:-0.63px;-webkit-text-stroke:0.63px #000;left:572.16px;width:44px;text-align:center;">4</div>
<div class="t dg" style="top:306px;line-height:19px;font-size:15.78px;letter-spacing:-0.63px;-webkit-text-stroke:0.63px #000;left:623.84px;width:44px;text-align:center;">5</div>
<div class="t dg" style="top:333px;line-height:19px;font-size:15.78px;letter-spacing:-0.63px;-webkit-text-stroke:0.63px #000;left:417.12px;width:44px;text-align:center;">8</div>
<div class="t dg" style="top:333px;line-height:19px;font-size:15.78px;letter-spacing:-0.63px;-webkit-text-stroke:0.63px #000;left:468.80px;width:44px;text-align:center;">9</div>
<div class="t dg" style="top:333px;line-height:19px;font-size:15.78px;letter-spacing:-0.63px;-webkit-text-stroke:0.63px #000;left:520.48px;width:44px;text-align:center;">10</div>
<div class="t dg" style="top:333px;line-height:19px;font-size:15.78px;letter-spacing:-0.63px;-webkit-text-stroke:0.63px #000;left:572.16px;width:44px;text-align:center;">11</div>
<div class="t dg" style="top:333px;line-height:19px;font-size:15.78px;letter-spacing:-0.63px;-webkit-text-stroke:0.63px #000;left:623.84px;width:44px;text-align:center;">12</div>
<div class="t dg" style="top:361px;line-height:19px;font-size:15.78px;letter-spacing:-0.63px;-webkit-text-stroke:0.63px #000;left:417.12px;width:44px;text-align:center;">15</div>
<div class="t dg" style="top:361px;line-height:19px;font-size:15.78px;letter-spacing:-0.63px;-webkit-text-stroke:0.63px #000;left:468.80px;width:44px;text-align:center;">16</div>
<div class="t dg" style="top:361px;line-height:19px;font-size:15.78px;letter-spacing:-0.63px;-webkit-text-stroke:0.63px #000;left:520.48px;width:44px;text-align:center;">17</div>
<div class="t dg" style="top:361px;line-height:19px;font-size:15.78px;letter-spacing:-0.63px;-webkit-text-stroke:0.63px #000;left:572.16px;width:44px;text-align:center;">18</div>
<div class="t dg" style="top:361px;line-height:19px;font-size:15.78px;letter-spacing:-0.63px;-webkit-text-stroke:0.63px #000;left:623.84px;width:44px;text-align:center;">19</div>
<div class="t dg" style="top:388px;line-height:19px;font-size:15.78px;letter-spacing:-0.63px;-webkit-text-stroke:0.63px #000;left:417.12px;width:44px;text-align:center;">22</div>
<div class="t dg" style="top:388px;line-height:19px;font-size:15.78px;letter-spacing:-0.63px;-webkit-text-stroke:0.63px #000;left:468.80px;width:44px;text-align:center;">23</div>
<div class="t dg" style="top:388px;line-height:19px;font-size:15.78px;letter-spacing:-0.63px;-webkit-text-stroke:0.63px #000;left:520.48px;width:44px;text-align:center;">24</div>
<div class="t dg" style="top:388px;line-height:19px;font-size:15.78px;letter-spacing:-0.63px;-webkit-text-stroke:0.63px #000;left:572.16px;width:44px;text-align:center;">25</div>
<div class="t dg" style="top:388px;line-height:19px;font-size:15.78px;letter-spacing:-0.63px;-webkit-text-stroke:0.63px #000;left:623.84px;width:44px;text-align:center;">26</div>
<div class="t dg" style="top:414px;line-height:19px;font-size:15.78px;letter-spacing:-0.63px;-webkit-text-stroke:0.63px #000;left:417.12px;width:44px;text-align:center;">29</div>
<div class="t dg" style="top:414px;line-height:19px;font-size:15.78px;letter-spacing:-0.63px;-webkit-text-stroke:0.63px #000;left:468.80px;width:44px;text-align:center;">30</div>
<h2 class="t mh" style="top:247px;line-height:21px;font-size:17.97px;letter-spacing:0.54px;-webkit-text-stroke:1.35px #000;transform:scaleX(1.0724);transform-origin:0 0;left:676.51px;">October 2025</h2>
<div class="t" style="top:252px;line-height:14px;font-size:11.66px;-webkit-text-stroke:0.47px #000;left:884.20px;width:40px;text-align:center;">22</div>
<div class="t dw" style="top:279px;line-height:19px;font-size:16.19px;-webkit-text-stroke:1.21px #000;left:675.80px;width:44px;text-align:center;">M</div>
<div class="t dw" style="top:279px;line-height:19px;font-size:16.19px;-webkit-text-stroke:1.21px #000;left:727.40px;width:44px;text-align:center;">T</div>
<div class="t dw" style="top:279px;line-height:19px;font-size:16.19px;-webkit-text-stroke:1.21px #000;left:779.00px;width:44px;text-align:center;">W</div>
<div class="t dw" style="top:279px;line-height:19px;font-size:16.19px;-webkit-text-stroke:1.21px #000;left:830.60px;width:44px;text-align:center;">TH</div>
<div class="t dw" style="top:279px;line-height:19px;font-size:16.19px;-webkit-text-stroke:1.21px #000;left:882.20px;width:44px;text-align:center;">F</div>
<div class="t dg" style="top:306px;line-height:19px;font-size:15.78px;letter-spacing:-0.63px;-webkit-text-stroke:0.63px #000;left:778.68px;width:44px;text-align:center;">1</div>
<div class="t dg" style="top:306px;line-height:19px;font-size:15.78px;letter-spacing:-0.63px;-webkit-text-stroke:0.63px #000;left:830.28px;width:44px;text-align:center;">2</div>
<div class="t dg" style="top:306px;line-height:19px;font-size:15.78px;letter-spacing:-0.63px;-webkit-text-stroke:0.63px #000;left:881.88px;width:44px;text-align:center;">3</div>
<div class="t dg" style="top:333px;line-height:19px;font-size:15.78px;letter-spacing:-0.63px;-webkit-text-stroke:0.63px #000;left:675.48px;width:44px;text-align:center;">6</div>
<div class="t dg" style="top:333px;line-height:19px;font-size:15.78px;letter-spacing:-0.63px;-webkit-text-stroke:0.63px #000;left:727.08px;width:44px;text-align:center;">7</div>
<div class="t dg" style="top:333px;line-height:19px;font-size:15.78px;letter-spacing:-0.63px;-webkit-text-stroke:0.63px #000;left:778.68px;width:44px;text-align:center;">8</div>
<div class="t dg" style="top:333px;line-height:19px;font-size:15.78px;letter-spacing:-0.63px;-webkit-text-stroke:0.63px #000;left:830.28px;width:44px;text-align:center;">9</div>
<div class="t dg" style="top:333px;line-height:19px;font-size:15.78px;letter-spacing:-0.63px;-webkit-text-stroke:0.63px #000;left:881.88px;width:44px;text-align:center;">10</div>
<div class="t dg" style="top:361px;line-height:19px;font-size:15.78px;letter-spacing:-0.63px;-webkit-text-stroke:0.63px #000;left:675.48px;width:44px;text-align:center;">13</div>
<div class="t dg" style="top:361px;line-height:19px;font-size:15.78px;letter-spacing:-0.63px;-webkit-text-stroke:0.63px #000;left:727.08px;width:44px;text-align:center;">14</div>
<div class="t dg" style="top:361px;line-height:19px;font-size:15.78px;letter-spacing:-0.63px;-webkit-text-stroke:0.63px #000;left:778.68px;width:44px;text-align:center;">15</div>
<div class="t dg" style="top:361px;line-height:19px;font-size:15.78px;letter-spacing:-0.63px;-webkit-text-stroke:0.63px #000;left:830.28px;width:44px;text-align:center;">16</div>
<div class="t dg" style="top:361px;line-height:19px;font-size:15.78px;letter-spacing:-0.63px;-webkit-text-stroke:0.63px #000;left:881.88px;width:44px;text-align:center;">17</div>
<div class="t dg" style="top:388px;line-height:19px;font-size:15.78px;letter-spacing:-0.63px;-webkit-text-stroke:0.63px #000;left:675.48px;width:44px;text-align:center;">20</div>
<div class="t dg" style="top:388px;line-height:19px;font-size:15.78px;letter-spacing:-0.63px;-webkit-text-stroke:0.63px #000;left:727.08px;width:44px;text-align:center;">21</div>
<div class="t dg" style="top:388px;line-height:19px;font-size:15.78px;letter-spacing:-0.63px;-webkit-text-stroke:0.63px #000;left:778.68px;width:44px;text-align:center;">22</div>
<div class="t dg" style="top:388px;line-height:19px;font-size:15.78px;letter-spacing:-0.63px;-webkit-text-stroke:0.63px #000;left:830.28px;width:44px;text-align:center;">23</div>
<div class="t dg" style="top:388px;line-height:19px;font-size:15.78px;letter-spacing:-0.63px;-webkit-text-stroke:0.63px #000;left:881.88px;width:44px;text-align:center;">24</div>
<div class="t dg" style="top:414px;line-height:19px;font-size:15.78px;letter-spacing:-0.63px;-webkit-text-stroke:0.63px #000;left:675.48px;width:44px;text-align:center;">27</div>
<div class="t dg" style="top:414px;line-height:19px;font-size:15.78px;letter-spacing:-0.63px;-webkit-text-stroke:0.63px #000;left:727.08px;width:44px;text-align:center;">28</div>
<div class="t dg" style="top:414px;line-height:19px;font-size:15.78px;letter-spacing:-0.63px;-webkit-text-stroke:0.63px #000;left:778.68px;width:44px;text-align:center;">29</div>
<div class="t dg" style="top:414px;line-height:19px;font-size:15.78px;letter-spacing:-0.63px;-webkit-text-stroke:0.63px #000;left:830.28px;width:44px;text-align:center;">30</div>
<div class="t dg" style="top:414px;line-height:19px;font-size:15.78px;letter-spacing:-0.63px;-webkit-text-stroke:0.63px #000;left:881.88px;width:44px;text-align:center;">31</div>
<h2 class="t mh" style="top:443px;line-height:21px;font-size:17.97px;letter-spacing:0.54px;-webkit-text-stroke:1.35px #000;transform:scaleX(1.0688);transform-origin:0 0;left:160.05px;">November 2025</h2>
<div class="t" style="top:448px;line-height:14px;font-size:11.66px;-webkit-text-stroke:0.47px #000;left:367.79px;width:40px;text-align:center;">16</div>
<div class="t dw" style="top:475px;line-height:19px;font-size:16.19px;-webkit-text-stroke:1.21px #000;left:159.31px;width:44px;text-align:center;">M</div>
<div class="t dw" style="top:475px;line-height:19px;font-size:16.19px;-webkit-text-stroke:1.21px #000;left:210.93px;width:44px;text-align:center;">T</div>
<div class="t dw" style="top:475px;line-height:19px;font-size:16.19px;-webkit-text-stroke:1.21px #000;left:262.55px;width:44px;text-align:center;">W</div>
<div class="t dw" style="top:475px;line-height:19px;font-size:16.19px;-webkit-text-stroke:1.21px #000;left:314.17px;width:44px;text-align:center;">TH</div>
<div class="t dw" style="top:475px;line-height:19px;font-size:16.19px;-webkit-text-stroke:1.21px #000;left:365.79px;width:44px;text-align:center;">F</div>
<div class="t dg" style="top:503px;line-height:19px;font-size:15.78px;letter-spacing:-0.63px;-webkit-text-stroke:0.63px #000;left:158.99px;width:44px;text-align:center;">3</div>
<div class="t dg" style="top:503px;line-height:19px;font-size:15.78px;letter-spacing:-0.63px;-webkit-text-stroke:0.63px #000;left:210.61px;width:44px;text-align:center;">4</div>
<div class="t dg" style="top:503px;line-height:19px;font-size:15.78px;letter-spacing:-0.63px;-webkit-text-stroke:0.63px #000;left:262.23px;width:44px;text-align:center;">5</div>
<div class="t dg" style="top:503px;line-height:19px;font-size:15.78px;letter-spacing:-0.63px;-webkit-text-stroke:0.63px #000;left:313.85px;width:44px;text-align:center;">6</div>
<div class="t dg" style="top:503px;line-height:19px;font-size:15.78px;letter-spacing:-0.63px;-webkit-text-stroke:0.63px #000;left:365.47px;width:44px;text-align:center;">7</div>
<div class="t dg" style="top:530px;line-height:19px;font-size:15.78px;letter-spacing:-0.63px;-webkit-text-stroke:0.63px #000;left:158.99px;width:44px;text-align:center;">10</div>
<div class="t dg" style="top:530px;line-height:19px;font-size:15.78px;letter-spacing:-0.63px;-webkit-text-stroke:0.63px #000;left:210.61px;width:44px;text-align:center;">11</div>
<div class="t dg" style="top:530px;line-height:19px;font-size:15.78px;letter-spacing:-0.63px;-webkit-text-stroke:0.63px #000;left:262.23px;width:44px;text-align:center;">12</div>
<div class="t dg" style="top:530px;line-height:19px;font-size:15.78px;letter-spacing:-0.63px;-webkit-text-stroke:0.63px #000;left:313.85px;width:44px;text-align:center;">13</div>
<div class="t dg" style="top:530px;line-height:19px;font-size:15.78px;letter-spacing:-0.63px;-webkit-text-stroke:0.63px #000;left:365.47px;width:44px;text-align:center;">14</div>
<div class="t dg" style="top:557px;line-height:19px;font-size:15.78px;letter-spacing:-0.63px;-webkit-text-stroke:0.63px #000;left:158.99px;width:44px;text-align:center;">17</div>
<div class="t dg" style="top:557px;line-height:19px;font-size:15.78px;letter-spacing:-0.63px;-webkit-text-stroke:0.63px #000;left:210.61px;width:44px;text-align:center;">18</div>
<div class="t dg" style="top:557px;line-height:19px;font-size:15.78px;letter-spacing:-0.63px;-webkit-text-stroke:0.63px #000;left:262.23px;width:44px;text-align:center;">19</div>
<div class="t dg" style="top:557px;line-height:19px;font-size:15.78px;letter-spacing:-0.63px;-webkit-text-stroke:0.63px #000;left:313.85px;width:44px;text-align:center;">20</div>
<div class="t dg" style="top:557px;line-height:19px;font-size:15.78px;letter-spacing:-0.63px;-webkit-text-stroke:0.63px #000;left:365.47px;width:44px;text-align:center;">21</div>
<div class="t dg" style="top:584px;line-height:19px;font-size:15.78px;letter-spacing:-0.63px;-webkit-text-stroke:0.63px #000;left:158.99px;width:44px;text-align:center;">24</div>
<div class="t dg" style="top:584px;line-height:19px;font-size:15.78px;letter-spacing:-0.63px;-webkit-text-stroke:0.63px #000;left:210.61px;width:44px;text-align:center;">25</div>
<div class="t dg" style="top:584px;line-height:19px;font-size:15.78px;letter-spacing:-0.63px;-webkit-text-stroke:0.63px #000;left:262.23px;width:44px;text-align:center;">26</div>
<div class="t dg" style="top:584px;line-height:19px;font-size:15.78px;letter-spacing:-0.63px;-webkit-text-stroke:0.63px #000;left:313.85px;width:44px;text-align:center;">27</div>
<div class="t dg" style="top:584px;line-height:19px;font-size:15.78px;letter-spacing:-0.63px;-webkit-text-stroke:0.63px #000;left:365.47px;width:44px;text-align:center;">28</div>
<h2 class="t mh" style="top:443px;line-height:21px;font-size:17.97px;letter-spacing:0.54px;-webkit-text-stroke:1.35px #000;transform:scaleX(1.0592);transform-origin:0 0;left:417.77px;">December 2025</h2>
<div class="t" style="top:448px;line-height:14px;font-size:11.66px;-webkit-text-stroke:0.47px #000;left:626.16px;width:40px;text-align:center;">17</div>
<div class="t dw" style="top:475px;line-height:19px;font-size:16.19px;-webkit-text-stroke:1.21px #000;left:417.44px;width:44px;text-align:center;">M</div>
<div class="t dw" style="top:475px;line-height:19px;font-size:16.19px;-webkit-text-stroke:1.21px #000;left:469.12px;width:44px;text-align:center;">T</div>
<div class="t dw" style="top:475px;line-height:19px;font-size:16.19px;-webkit-text-stroke:1.21px #000;left:520.80px;width:44px;text-align:center;">W</div>
<div class="t dw" style="top:475px;line-height:19px;font-size:16.19px;-webkit-text-stroke:1.21px #000;left:572.48px;width:44px;text-align:center;">TH</div>
<div class="t dw" style="top:475px;line-height:19px;font-size:16.19px;-webkit-text-stroke:1.21px #000;left:624.16px;width:44px;text-align:center;">F</div>
<div class="t dg" style="top:503px;line-height:19px;font-size:15.78px;letter-spacing:-0.63px;-webkit-text-stroke:0.63px #000;left:417.12px;width:44px;text-align:center;">1</div>
<div class="t dg" style="top:503px;line-height:19px;font-size:15.78px;letter-spacing:-0.63px;-webkit-text-stroke:0.63px #000;left:468.80px;width:44px;text-align:center;">2</div>
<div class="t dg" style="top:503px;line-height:19px;font-size:15.78px;letter-spacing:-0.63px;-webkit-text-stroke:0.63px #000;left:520.48px;width:44px;text-align:center;">3</div>
<div class="t dg" style="top:503px;line-height:19px;font-size:15.78px;letter-spacing:-0.63px;-webkit-text-stroke:0.63px #000;left:572.16px;width:44px;text-align:center;">4</div>
<div class="t dg" style="top:503px;line-height:19px;font-size:15.78px;letter-spacing:-0.63px;-webkit-text-stroke:0.63px #000;left:623.84px;width:44px;text-align:center;">5</div>
<div class="t dg" style="top:530px;line-height:19px;font-size:15.78px;letter-spacing:-0.63px;-webkit-text-stroke:0.63px #000;left:417.12px;width:44px;text-align:center;">8</div>
<div class="t dg" style="top:530px;line-height:19px;font-size:15.78px;letter-spacing:-0.63px;-webkit-text-stroke:0.63px #000;left:468.80px;width:44px;text-align:center;">9</div>
<div class="t dg" style="top:530px;line-height:19px;font-size:15.78px;letter-spacing:-0.63px;-webkit-text-stroke:0.63px #000;left:520.48px;width:44px;text-align:center;">10</div>
<div class="t dg" style="top:530px;line-height:19px;font-size:15.78px;letter-spacing:-0.63px;-webkit-text-stroke:0.63px #000;left:572.16px;width:44px;text-align:center;">11</div>
<div class="t dg" style="top:530px;line-height:19px;font-size:15.78px;letter-spacing:-0.63px;-webkit-text-stroke:0.63px #000;left:623.84px;width:44px;text-align:center;">12</div>
<div class="t dg" style="top:557px;line-height:19px;font-size:15.78px;letter-spacing:-0.63px;-webkit-text-stroke:0.63px #000;left:417.12px;width:44px;text-align:center;">15</div>
<div class="t dg" style="top:557px;line-height:19px;font-size:15.78px;letter-spacing:-0.63px;-webkit-text-stroke:0.63px #000;left:468.80px;width:44px;text-align:center;">16</div>
<div class="t dg" style="top:557px;line-height:19px;font-size:15.78px;letter-spacing:-0.63px;-webkit-text-stroke:0.63px #000;left:520.48px;width:44px;text-align:center;">17</div>
<div class="t dg" style="top:557px;line-height:19px;font-size:15.78px;letter-spacing:-0.63px;-webkit-text-stroke:0.63px #000;left:572.16px;width:44px;text-align:center;">18</div>
<div class="t dg" style="top:557px;line-height:19px;font-size:15.78px;letter-spacing:-0.63px;-webkit-text-stroke:0.63px #000;left:623.84px;width:44px;text-align:center;">19</div>
<div class="t dg" style="top:584px;line-height:19px;font-size:15.78px;letter-spacing:-0.63px;-webkit-text-stroke:0.63px #000;left:417.12px;width:44px;text-align:center;">22</div>
<div class="t dg" style="top:584px;line-height:19px;font-size:15.78px;letter-spacing:-0.63px;-webkit-text-stroke:0.63px #000;left:468.80px;width:44px;text-align:center;">23</div>
<div class="t dg" style="top:584px;line-height:19px;font-size:15.78px;letter-spacing:-0.63px;-webkit-text-stroke:0.63px #000;left:520.48px;width:44px;text-align:center;">24</div>
<div class="t dg" style="top:584px;line-height:19px;font-size:15.78px;letter-spacing:-0.63px;-webkit-text-stroke:0.63px #000;left:572.16px;width:44px;text-align:center;">25</div>
<div class="t dg" style="top:584px;line-height:19px;font-size:15.78px;letter-spacing:-0.63px;-webkit-text-stroke:0.63px #000;left:623.84px;width:44px;text-align:center;">26</div>
<div class="t dg" style="top:611px;line-height:19px;font-size:15.78px;letter-spacing:-0.63px;-webkit-text-stroke:0.63px #000;left:417.12px;width:44px;text-align:center;">29</div>
<div class="t dg" style="top:611px;line-height:19px;font-size:15.78px;letter-spacing:-0.63px;-webkit-text-stroke:0.63px #000;left:468.80px;width:44px;text-align:center;">30</div>
<div class="t dg" style="top:611px;line-height:19px;font-size:15.78px;letter-spacing:-0.63px;-webkit-text-stroke:0.63px #000;left:520.48px;width:44px;text-align:center;">31</div>
<h2 class="t mh" style="top:443px;line-height:21px;font-size:17.97px;letter-spacing:0.54px;-webkit-text-stroke:1.35px #000;transform:scaleX(1.1198);transform-origin:0 0;left:678.28px;">January 2026</h2>
<div class="t" style="top:448px;line-height:14px;font-size:11.66px;-webkit-text-stroke:0.47px #000;left:884.20px;width:40px;text-align:center;">19</div>
<div class="t dw" style="top:475px;line-height:19px;font-size:16.19px;-webkit-text-stroke:1.21px #000;left:675.80px;width:44px;text-align:center;">M</div>
<div class="t dw" style="top:475px;line-height:19px;font-size:16.19px;-webkit-text-stroke:1.21px #000;left:727.40px;width:44px;text-align:center;">T</div>
<div class="t dw" style="top:475px;line-height:19px;font-size:16.19px;-webkit-text-stroke:1.21px #000;left:779.00px;width:44px;text-align:center;">W</div>
<div class="t dw" style="top:475px;line-height:19px;font-size:16.19px;-webkit-text-stroke:1.21px #000;left:830.60px;width:44px;text-align:center;">TH</div>
<div class="t dw" style="top:475px;line-height:19px;font-size:16.19px;-webkit-text-stroke:1.21px #000;left:882.20px;width:44px;text-align:center;">F</div>
<div class="t dg" style="top:503px;line-height:19px;font-size:15.78px;letter-spacing:-0.63px;-webkit-text-stroke:0.63px #000;left:830.28px;width:44px;text-align:center;">1</div>
<div class="t dg" style="top:503px;line-height:19px;font-size:15.78px;letter-spacing:-0.63px;-webkit-text-stroke:0.63px #000;left:881.88px;width:44px;text-align:center;">2</div>
<div class="t dg" style="top:530px;line-height:19px;font-size:15.78px;letter-spacing:-0.63px;-webkit-text-stroke:0.63px #000;left:675.48px;width:44px;text-align:center;">5</div>
<div class="t dg" style="top:530px;line-height:19px;font-size:15.78px;letter-spacing:-0.63px;-webkit-text-stroke:0.63px #000;left:727.08px;width:44px;text-align:center;">6</div>
<div class="t dg" style="top:530px;line-height:19px;font-size:15.78px;letter-spacing:-0.63px;-webkit-text-stroke:0.63px #000;left:778.68px;width:44px;text-align:center;">7</div>
<div class="t dg" style="top:530px;line-height:19px;font-size:15.78px;letter-spacing:-0.63px;-webkit-text-stroke:0.63px #000;left:830.28px;width:44px;text-align:center;">8</div>
<div class="t dg" style="top:530px;line-height:19px;font-size:15.78px;letter-spacing:-0.63px;-webkit-text-stroke:0.63px #000;left:881.88px;width:44px;text-align:center;">9</div>
<div class="t dg" style="top:557px;line-height:19px;font-size:15.78px;letter-spacing:-0.63px;-webkit-text-stroke:0.63px #000;left:675.48px;width:44px;text-align:center;">12</div>
<div class="t dg" style="top:557px;line-height:19px;font-size:15.78px;letter-spacing:-0.63px;-webkit-text-stroke:0.63px #000;left:727.08px;width:44px;text-align:center;">13</div>
<div class="t dg" style="top:557px;line-height:19px;font-size:15.78px;letter-spacing:-0.63px;-webkit-text-stroke:0.63px #000;left:778.68px;width:44px;text-align:center;">14</div>
<div class="t dg" style="top:557px;line-height:19px;font-size:15.78px;letter-spacing:-0.63px;-webkit-text-stroke:0.63px #000;left:830.28px;width:44px;text-align:center;">15</div>
<div class="t dg" style="top:557px;line-height:19px;font-size:15.78px;letter-spacing:-0.63px;-webkit-text-stroke:0.63px #000;left:881.88px;width:44px;text-align:center;">16</div>
<div class="t dg" style="top:584px;line-height:19px;font-size:15.78px;letter-spacing:-0.63px;-webkit-text-stroke:0.63px #000;left:675.48px;width:44px;text-align:center;">19</div>
<div class="t dg" style="top:584px;line-height:19px;font-size:15.78px;letter-spacing:-0.63px;-webkit-text-stroke:0.63px #000;left:727.08px;width:44px;text-align:center;">20</div>
<div class="t dg" style="top:584px;line-height:19px;font-size:15.78px;letter-spacing:-0.63px;-webkit-text-stroke:0.63px #000;left:778.68px;width:44px;text-align:center;">21</div>
<div class="t dg" style="top:584px;line-height:19px;font-size:15.78px;letter-spacing:-0.63px;-webkit-text-stroke:0.63px #000;left:830.28px;width:44px;text-align:center;">22</div>
<div class="t dg" style="top:584px;line-height:19px;font-size:15.78px;letter-spacing:-0.63px;-webkit-text-stroke:0.63px #000;left:881.88px;width:44px;text-align:center;">23</div>
<div class="t dg" style="top:611px;line-height:19px;font-size:15.78px;letter-spacing:-0.63px;-webkit-text-stroke:0.63px #000;left:675.48px;width:44px;text-align:center;">26</div>
<div class="t dg" style="top:611px;line-height:19px;font-size:15.78px;letter-spacing:-0.63px;-webkit-text-stroke:0.63px #000;left:727.08px;width:44px;text-align:center;">27</div>
<div class="t dg" style="top:611px;line-height:19px;font-size:15.78px;letter-spacing:-0.63px;-webkit-text-stroke:0.63px #000;left:778.68px;width:44px;text-align:center;">28</div>
<div class="t dg" style="top:611px;line-height:19px;font-size:15.78px;letter-spacing:-0.63px;-webkit-text-stroke:0.63px #000;left:830.28px;width:44px;text-align:center;">29</div>
<div class="t dg" style="top:611px;line-height:19px;font-size:15.78px;letter-spacing:-0.63px;-webkit-text-stroke:0.63px #000;left:881.88px;width:44px;text-align:center;">30</div>
<h2 class="t mh" style="top:640px;line-height:21px;font-size:17.97px;letter-spacing:0.54px;-webkit-text-stroke:1.35px #000;transform:scaleX(1.0874);transform-origin:0 0;left:160.02px;">February 2026</h2>
<div class="t" style="top:644px;line-height:14px;font-size:11.66px;-webkit-text-stroke:0.47px #000;left:367.79px;width:40px;text-align:center;">17</div>
<div class="t dw" style="top:672px;line-height:19px;font-size:16.19px;-webkit-text-stroke:1.21px #000;left:159.31px;width:44px;text-align:center;">M</div>
<div class="t dw" style="top:672px;line-height:19px;font-size:16.19px;-webkit-text-stroke:1.21px #000;left:210.93px;width:44px;text-align:center;">T</div>
<div class="t dw" style="top:672px;line-height:19px;font-size:16.19px;-webkit-text-stroke:1.21px #000;left:262.55px;width:44px;text-align:center;">W</div>
<div class="t dw" style="top:672px;line-height:19px;font-size:16.19px;-webkit-text-stroke:1.21px #000;left:314.17px;width:44px;text-align:center;">TH</div>
<div class="t dw" style="top:672px;line-height:19px;font-size:16.19px;-webkit-text-stroke:1.21px #000;left:365.79px;width:44px;text-align:center;">F</div>
<div class="t dg" style="top:699px;line-height:19px;font-size:15.78px;letter-spacing:-0.63px;-webkit-text-stroke:0.63px #000;left:158.99px;width:44px;text-align:center;">2</div>
<div class="t dg" style="top:699px;line-height:19px;font-size:15.78px;letter-spacing:-0.63px;-webkit-text-stroke:0.63px #000;left:210.61px;width:44px;text-align:center;">3</div>
<div class="t dg" style="top:699px;line-height:19px;font-size:15.78px;letter-spacing:-0.63px;-webkit-text-stroke:0.63px #000;left:262.23px;width:44px;text-align:center;">4</div>
<div class="t dg" style="top:699px;line-height:19px;font-size:15.78px;letter-spacing:-0.63px;-webkit-text-stroke:0.63px #000;left:313.85px;width:44px;text-align:center;">5</div>
<div class="t dg" style="top:699px;line-height:19px;font-size:15.78px;letter-spacing:-0.63px;-webkit-text-stroke:0.63px #000;left:365.47px;width:44px;text-align:center;">6</div>
<div class="t dg" style="top:726px;line-height:19px;font-size:15.78px;letter-spacing:-0.63px;-webkit-text-stroke:0.63px #000;left:158.99px;width:44px;text-align:center;">9</div>
<div class="t dg" style="top:726px;line-height:19px;font-size:15.78px;letter-spacing:-0.63px;-webkit-text-stroke:0.63px #000;left:210.61px;width:44px;text-align:center;">10</div>
<div class="t dg" style="top:726px;line-height:19px;font-size:15.78px;letter-spacing:-0.63px;-webkit-text-stroke:0.63px #000;left:262.23px;width:44px;text-align:center;">11</div>
<div class="t dg" style="top:726px;line-height:19px;font-size:15.78px;letter-spacing:-0.63px;-webkit-text-stroke:0.63px #000;left:313.85px;width:44px;text-align:center;">12</div>
<div class="t dg" style="top:726px;line-height:19px;font-size:15.78px;letter-spacing:-0.63px;-webkit-text-stroke:0.63px #000;left:365.47px;width:44px;text-align:center;">13</div>
<div class="t dg" style="top:753px;line-height:19px;font-size:15.78px;letter-spacing:-0.63px;-webkit-text-stroke:0.63px #000;left:158.99px;width:44px;text-align:center;">16</div>
<div class="t dg" style="top:753px;line-height:19px;font-size:15.78px;letter-spacing:-0.63px;-webkit-text-stroke:0.63px #000;left:210.61px;width:44px;text-align:center;">17</div>
<div class="t dg" style="top:753px;line-height:19px;font-size:15.78px;letter-spacing:-0.63px;-webkit-text-stroke:0.63px #000;left:262.23px;width:44px;text-align:center;">18</div>
<div class="t dg" style="top:753px;line-height:19px;font-size:15.78px;letter-spacing:-0.63px;-webkit-text-stroke:0.63px #000;left:313.85px;width:44px;text-align:center;">19</div>
<div class="t dg" style="top:753px;line-height:19px;font-size:15.78px;letter-spacing:-0.63px;-webkit-text-stroke:0.63px #000;left:365.47px;width:44px;text-align:center;">20</div>
<div class="t dg" style="top:780px;line-height:19px;font-size:15.78px;letter-spacing:-0.63px;-webkit-text-stroke:0.63px #000;left:158.99px;width:44px;text-align:center;">23</div>
<div class="t dg" style="top:780px;line-height:19px;font-size:15.78px;letter-spacing:-0.63px;-webkit-text-stroke:0.63px #000;left:210.61px;width:44px;text-align:center;">24</div>
<div class="t dg" style="top:780px;line-height:19px;font-size:15.78px;letter-spacing:-0.63px;-webkit-text-stroke:0.63px #000;left:262.23px;width:44px;text-align:center;">25</div>
<div class="t dg" style="top:780px;line-height:19px;font-size:15.78px;letter-spacing:-0.63px;-webkit-text-stroke:0.63px #000;left:313.85px;width:44px;text-align:center;">26</div>
<div class="t dg" style="top:780px;line-height:19px;font-size:15.78px;letter-spacing:-0.63px;-webkit-text-stroke:0.63px #000;left:365.47px;width:44px;text-align:center;">27</div>
<h2 class="t mh" style="top:640px;line-height:21px;font-size:17.97px;letter-spacing:0.54px;-webkit-text-stroke:1.35px #000;transform:scaleX(1.0700);transform-origin:0 0;left:417.85px;">March 2026</h2>
<div class="t" style="top:644px;line-height:14px;font-size:11.66px;-webkit-text-stroke:0.47px #000;left:626.16px;width:40px;text-align:center;">21</div>
<div class="t dw" style="top:672px;line-height:19px;font-size:16.19px;-webkit-text-stroke:1.21px #000;left:417.44px;width:44px;text-align:center;">M</div>
<div class="t dw" style="top:672px;line-height:19px;font-size:16.19px;-webkit-text-stroke:1.21px #000;left:469.12px;width:44px;text-align:center;">T</div>
<div class="t dw" style="top:672px;line-height:19px;font-size:16.19px;-webkit-text-stroke:1.21px #000;left:520.80px;width:44px;text-align:center;">W</div>
<div class="t dw" style="top:672px;line-height:19px;font-size:16.19px;-webkit-text-stroke:1.21px #000;left:572.48px;width:44px;text-align:center;">TH</div>
<div class="t dw" style="top:672px;line-height:19px;font-size:16.19px;-webkit-text-stroke:1.21px #000;left:624.16px;width:44px;text-align:center;">F</div>
<div class="t dg" style="top:699px;line-height:19px;font-size:15.78px;letter-spacing:-0.63px;-webkit-text-stroke:0.63px #000;left:417.12px;width:44px;text-align:center;">2</div>
<div class="t dg" style="top:699px;line-height:19px;font-size:15.78px;letter-spacing:-0.63px;-webkit-text-stroke:0.63px #000;left:468.80px;width:44px;text-align:center;">3</div>
<div class="t dg" style="top:699px;line-height:19px;font-size:15.78px;letter-spacing:-0.63px;-webkit-text-stroke:0.63px #000;left:520.48px;width:44px;text-align:center;">4</div>
<div class="t dg" style="top:699px;line-height:19px;font-size:15.78px;letter-spacing:-0.63px;-webkit-text-stroke:0.63px #000;left:572.16px;width:44px;text-align:center;">5</div>
<div class="t dg" style="top:699px;line-height:19px;font-size:15.78px;letter-spacing:-0.63px;-webkit-text-stroke:0.63px #000;left:623.84px;width:44px;text-align:center;">6</div>
<div class="t dg" style="top:726px;line-height:19px;font-size:15.78px;letter-spacing:-0.63px;-webkit-text-stroke:0.63px #000;left:417.12px;width:44px;text-align:center;">9</div>
<div class="t dg" style="top:726px;line-height:19px;font-size:15.78px;letter-spacing:-0.63px;-webkit-text-stroke:0.63px #000;left:468.80px;width:44px;text-align:center;">10</div>
<div class="t dg" style="top:726px;line-height:19px;font-size:15.78px;letter-spacing:-0.63px;-webkit-text-stroke:0.63px #000;left:520.48px;width:44px;text-align:center;">11</div>
<div class="t dg" style="top:726px;line-height:19px;font-size:15.78px;letter-spacing:-0.63px;-webkit-text-stroke:0.63px #000;left:572.16px;width:44px;text-align:center;">12</div>
<div class="t dg" style="top:726px;line-height:19px;font-size:15.78px;letter-spacing:-0.63px;-webkit-text-stroke:0.63px #000;left:623.84px;width:44px;text-align:center;">13</div>
<div class="t dg" style="top:753px;line-height:19px;font-size:15.78px;letter-spacing:-0.63px;-webkit-text-stroke:0.63px #000;left:417.12px;width:44px;text-align:center;">16</div>
<div class="t dg" style="top:753px;line-height:19px;font-size:15.78px;letter-spacing:-0.63px;-webkit-text-stroke:0.63px #000;left:468.80px;width:44px;text-align:center;">17</div>
<div class="t dg" style="top:753px;line-height:19px;font-size:15.78px;letter-spacing:-0.63px;-webkit-text-stroke:0.63px #000;left:520.48px;width:44px;text-align:center;">18</div>
<div class="t dg" style="top:753px;line-height:19px;font-size:15.78px;letter-spacing:-0.63px;-webkit-text-stroke:0.63px #000;left:572.16px;width:44px;text-align:center;">19</div>
<div class="t dg" style="top:753px;line-height:19px;font-size:15.78px;letter-spacing:-0.63px;-webkit-text-stroke:0.63px #000;left:623.84px;width:44px;text-align:center;">20</div>
<div class="t dg" style="top:780px;line-height:19px;font-size:15.78px;letter-spacing:-0.63px;-webkit-text-stroke:0.63px #000;left:417.12px;width:44px;text-align:center;">23</div>
<div class="t dg" style="top:780px;line-height:19px;font-size:15.78px;letter-spacing:-0.63px;-webkit-text-stroke:0.63px #000;left:468.80px;width:44px;text-align:center;">24</div>
<div class="t dg" style="top:780px;line-height:19px;font-size:15.78px;letter-spacing:-0.63px;-webkit-text-stroke:0.63px #000;left:520.48px;width:44px;text-align:center;">25</div>
<div class="t dg" style="top:780px;line-height:19px;font-size:15.78px;letter-spacing:-0.63px;-webkit-text-stroke:0.63px #000;left:572.16px;width:44px;text-align:center;">26</div>
<div class="t dg" style="top:780px;line-height:19px;font-size:15.78px;letter-spacing:-0.63px;-webkit-text-stroke:0.63px #000;left:623.84px;width:44px;text-align:center;">27</div>
<div class="t dg" style="top:807px;line-height:19px;font-size:15.78px;letter-spacing:-0.63px;-webkit-text-stroke:0.63px #000;left:417.12px;width:44px;text-align:center;">30</div>
<div class="t dg" style="top:807px;line-height:19px;font-size:15.78px;letter-spacing:-0.63px;-webkit-text-stroke:0.63px #000;left:468.80px;width:44px;text-align:center;">31</div>
<h2 class="t mh" style="top:640px;line-height:21px;font-size:17.97px;letter-spacing:0.54px;-webkit-text-stroke:1.35px #000;transform:scaleX(1.0646);transform-origin:0 0;left:676.88px;">April 2026</h2>
<div class="t" style="top:644px;line-height:14px;font-size:11.66px;-webkit-text-stroke:0.47px #000;left:884.20px;width:40px;text-align:center;">16</div>
<div class="t dw" style="top:672px;line-height:19px;font-size:16.19px;-webkit-text-stroke:1.21px #000;left:675.80px;width:44px;text-align:center;">M</div>
<div class="t dw" style="top:672px;line-height:19px;font-size:16.19px;-webkit-text-stroke:1.21px #000;left:727.40px;width:44px;text-align:center;">T</div>
<div class="t dw" style="top:672px;line-height:19px;font-size:16.19px;-webkit-text-stroke:1.21px #000;left:779.00px;width:44px;text-align:center;">W</div>
<div class="t dw" style="top:672px;line-height:19px;font-size:16.19px;-webkit-text-stroke:1.21px #000;left:830.60px;width:44px;text-align:center;">TH</div>
<div class="t dw" style="top:672px;line-height:19px;font-size:16.19px;-webkit-text-stroke:1.21px #000;left:882.20px;width:44px;text-align:center;">F</div>
<div class="t dg" style="top:699px;line-height:19px;font-size:15.78px;letter-spacing:-0.63px;-webkit-text-stroke:0.63px #000;left:778.68px;width:44px;text-align:center;">1</div>
<div class="t dg" style="top:699px;line-height:19px;font-size:15.78px;letter-spacing:-0.63px;-webkit-text-stroke:0.63px #000;left:830.28px;width:44px;text-align:center;">2</div>
<div class="t dg" style="top:699px;line-height:19px;font-size:15.78px;letter-spacing:-0.63px;-webkit-text-stroke:0.63px #000;left:881.88px;width:44px;text-align:center;">3</div>
<div class="t dg" style="top:726px;line-height:19px;font-size:15.78px;letter-spacing:-0.63px;-webkit-text-stroke:0.63px #000;left:675.48px;width:44px;text-align:center;">6</div>
<div class="t dg" style="top:726px;line-height:19px;font-size:15.78px;letter-spacing:-0.63px;-webkit-text-stroke:0.63px #000;left:727.08px;width:44px;text-align:center;">7</div>
<div class="t dg" style="top:726px;line-height:19px;font-size:15.78px;letter-spacing:-0.63px;-webkit-text-stroke:0.63px #000;left:778.68px;width:44px;text-align:center;">8</div>
<div class="t dg" style="top:726px;line-height:19px;font-size:15.78px;letter-spacing:-0.63px;-webkit-text-stroke:0.63px #000;left:830.28px;width:44px;text-align:center;">9</div>
<div class="t dg" style="top:726px;line-height:19px;font-size:15.78px;letter-spacing:-0.63px;-webkit-text-stroke:0.63px #000;left:881.88px;width:44px;text-align:center;">10</div>
<div class="t dg" style="top:753px;line-height:19px;font-size:15.78px;letter-spacing:-0.63px;-webkit-text-stroke:0.63px #000;left:675.48px;width:44px;text-align:center;">13</div>
<div class="t dg" style="top:753px;line-height:19px;font-size:15.78px;letter-spacing:-0.63px;-webkit-text-stroke:0.63px #000;left:727.08px;width:44px;text-align:center;">14</div>
<div class="t dg" style="top:753px;line-height:19px;font-size:15.78px;letter-spacing:-0.63px;-webkit-text-stroke:0.63px #000;left:778.68px;width:44px;text-align:center;">15</div>
<div class="t dg" style="top:753px;line-height:19px;font-size:15.78px;letter-spacing:-0.63px;-webkit-text-stroke:0.63px #000;left:830.28px;width:44px;text-align:center;">16</div>
<div class="t dg" style="top:753px;line-height:19px;font-size:15.78px;letter-spacing:-0.63px;-webkit-text-stroke:0.63px #000;left:881.88px;width:44px;text-align:center;">17</div>
<div class="t dg" style="top:780px;line-height:19px;font-size:15.78px;letter-spacing:-0.63px;-webkit-text-stroke:0.63px #000;left:675.48px;width:44px;text-align:center;">20</div>
<div class="t dg" style="top:780px;line-height:19px;font-size:15.78px;letter-spacing:-0.63px;-webkit-text-stroke:0.63px #000;left:727.08px;width:44px;text-align:center;">21</div>
<div class="t dg" style="top:780px;line-height:19px;font-size:15.78px;letter-spacing:-0.63px;-webkit-text-stroke:0.63px #000;left:778.68px;width:44px;text-align:center;">22</div>
<div class="t dg" style="top:780px;line-height:19px;font-size:15.78px;letter-spacing:-0.63px;-webkit-text-stroke:0.63px #000;left:830.28px;width:44px;text-align:center;">23</div>
<div class="t dg" style="top:780px;line-height:19px;font-size:15.78px;letter-spacing:-0.63px;-webkit-text-stroke:0.63px #000;left:881.88px;width:44px;text-align:center;">24</div>
<div class="t dg" style="top:807px;line-height:19px;font-size:15.78px;letter-spacing:-0.63px;-webkit-text-stroke:0.63px #000;left:675.48px;width:44px;text-align:center;">27</div>
<div class="t dg" style="top:807px;line-height:19px;font-size:15.78px;letter-spacing:-0.63px;-webkit-text-stroke:0.63px #000;left:727.08px;width:44px;text-align:center;">28</div>
<div class="t dg" style="top:807px;line-height:19px;font-size:15.78px;letter-spacing:-0.63px;-webkit-text-stroke:0.63px #000;left:778.68px;width:44px;text-align:center;">29</div>
<div class="t dg" style="top:807px;line-height:19px;font-size:15.78px;letter-spacing:-0.63px;-webkit-text-stroke:0.63px #000;left:830.28px;width:44px;text-align:center;">30</div>
<h2 class="t mh" style="top:837px;line-height:21px;font-size:17.97px;letter-spacing:0.54px;-webkit-text-stroke:1.35px #000;transform:scaleX(1.0677);transform-origin:0 0;left:160.06px;">May 2026</h2>
<div class="t" style="top:841px;line-height:14px;font-size:11.66px;-webkit-text-stroke:0.47px #000;left:367.79px;width:40px;text-align:center;">20</div>
<div class="t dw" style="top:868px;line-height:19px;font-size:16.19px;-webkit-text-stroke:1.21px #000;left:159.31px;width:44px;text-align:center;">M</div>
<div class="t dw" style="top:868px;line-height:19px;font-size:16.19px;-webkit-text-stroke:1.21px #000;left:210.93px;width:44px;text-align:center;">T</div>
<div class="t dw" style="top:868px;line-height:19px;font-size:16.19px;-webkit-text-stroke:1.21px #000;left:262.55px;width:44px;text-align:center;">W</div>
<div class="t dw" style="top:868px;line-height:19px;font-size:16.19px;-webkit-text-stroke:1.21px #000;left:314.17px;width:44px;text-align:center;">TH</div>
<div class="t dw" style="top:868px;line-height:19px;font-size:16.19px;-webkit-text-stroke:1.21px #000;left:365.79px;width:44px;text-align:center;">F</div>
<div class="t dg" style="top:895px;line-height:19px;font-size:15.78px;letter-spacing:-0.63px;-webkit-text-stroke:0.63px #000;left:365.47px;width:44px;text-align:center;">1</div>
<div class="t dg" style="top:922px;line-height:19px;font-size:15.78px;letter-spacing:-0.63px;-webkit-text-stroke:0.63px #000;left:158.99px;width:44px;text-align:center;">4</div>
<div class="t dg" style="top:922px;line-height:19px;font-size:15.78px;letter-spacing:-0.63px;-webkit-text-stroke:0.63px #000;left:210.61px;width:44px;text-align:center;">5</div>
<div class="t dg" style="top:922px;line-height:19px;font-size:15.78px;letter-spacing:-0.63px;-webkit-text-stroke:0.63px #000;left:262.23px;width:44px;text-align:center;">6</div>
<div class="t dg" style="top:922px;line-height:19px;font-size:15.78px;letter-spacing:-0.63px;-webkit-text-stroke:0.63px #000;left:313.85px;width:44px;text-align:center;">7</div>
<div class="t dg" style="top:922px;line-height:19px;font-size:15.78px;letter-spacing:-0.63px;-webkit-text-stroke:0.63px #000;left:365.47px;width:44px;text-align:center;">8</div>
<div class="t dg" style="top:949px;line-height:19px;font-size:15.78px;letter-spacing:-0.63px;-webkit-text-stroke:0.63px #000;left:158.99px;width:44px;text-align:center;">11</div>
<div class="t dg" style="top:949px;line-height:19px;font-size:15.78px;letter-spacing:-0.63px;-webkit-text-stroke:0.63px #000;left:210.61px;width:44px;text-align:center;">12</div>
<div class="t dg" style="top:949px;line-height:19px;font-size:15.78px;letter-spacing:-0.63px;-webkit-text-stroke:0.63px #000;left:262.23px;width:44px;text-align:center;">13</div>
<div class="t dg" style="top:949px;line-height:19px;font-size:15.78px;letter-spacing:-0.63px;-webkit-text-stroke:0.63px #000;left:313.85px;width:44px;text-align:center;">14</div>
<div class="t dg" style="top:949px;line-height:19px;font-size:15.78px;letter-spacing:-0.63px;-webkit-text-stroke:0.63px #000;left:365.47px;width:44px;text-align:center;">15</div>
<div class="t dg" style="top:976px;line-height:19px;font-size:15.78px;letter-spacing:-0.63px;-webkit-text-stroke:0.63px #000;left:158.99px;width:44px;text-align:center;">18</div>
<div class="t dg" style="top:976px;line-height:19px;font-size:15.78px;letter-spacing:-0.63px;-webkit-text-stroke:0.63px #000;left:210.61px;width:44px;text-align:center;">19</div>
<div class="t dg" style="top:976px;line-height:19px;font-size:15.78px;letter-spacing:-0.63px;-webkit-text-stroke:0.63px #000;left:262.23px;width:44px;text-align:center;">20</div>
<div class="t dg" style="top:976px;line-height:19px;font-size:15.78px;letter-spacing:-0.63px;-webkit-text-stroke:0.63px #000;left:313.85px;width:44px;text-align:center;">21</div>
<div class="t dg" style="top:976px;line-height:19px;font-size:15.78px;letter-spacing:-0.63px;-webkit-text-stroke:0.63px #000;left:365.47px;width:44px;text-align:center;">22</div>
<div class="t dg" style="top:1003px;line-height:19px;font-size:15.78px;letter-spacing:-0.63px;-webkit-text-stroke:0.63px #000;left:158.99px;width:44px;text-align:center;">25</div>
<div class="t dg" style="top:1003px;line-height:19px;font-size:15.78px;letter-spacing:-0.63px;-webkit-text-stroke:0.63px #000;left:210.61px;width:44px;text-align:center;">26</div>
<div class="t dg" style="top:1003px;line-height:19px;font-size:15.78px;letter-spacing:-0.63px;-webkit-text-stroke:0.63px #000;left:262.23px;width:44px;text-align:center;">27</div>
<div class="t dg" style="top:1003px;line-height:19px;font-size:15.78px;letter-spacing:-0.63px;-webkit-text-stroke:0.63px #000;left:313.85px;width:44px;text-align:center;">28</div>
<div class="t dg" style="top:1003px;line-height:19px;font-size:15.78px;letter-spacing:-0.63px;-webkit-text-stroke:0.63px #000;left:365.47px;width:44px;text-align:center;">29</div>
<h2 class="t mh" style="top:837px;line-height:21px;font-size:17.97px;letter-spacing:0.54px;-webkit-text-stroke:1.35px #000;transform:scaleX(1.0702);transform-origin:0 0;left:420.74px;">June 2026</h2>
<div class="t" style="top:841px;line-height:14px;font-size:11.66px;-webkit-text-stroke:0.47px #000;left:626.16px;width:40px;text-align:center;">9</div>
<div class="t dw" style="top:868px;line-height:19px;font-size:16.19px;-webkit-text-stroke:1.21px #000;left:417.44px;width:44px;text-align:center;">M</div>
<div class="t dw" style="top:868px;line-height:19px;font-size:16.19px;-webkit-text-stroke:1.21px #000;left:469.12px;width:44px;text-align:center;">T</div>
<div class="t dw" style="top:868px;line-height:19px;font-size:16.19px;-webkit-text-stroke:1.21px #000;left:520.80px;width:44px;text-align:center;">W</div>
<div class="t dw" style="top:868px;line-height:19px;font-size:16.19px;-webkit-text-stroke:1.21px #000;left:572.48px;width:44px;text-align:center;">TH</div>
<div class="t dw" style="top:868px;line-height:19px;font-size:16.19px;-webkit-text-stroke:1.21px #000;left:624.16px;width:44px;text-align:center;">F</div>
<div class="t dg" style="top:895px;line-height:19px;font-size:15.78px;letter-spacing:-0.63px;-webkit-text-stroke:0.63px #000;left:417.12px;width:44px;text-align:center;">1</div>
<div class="t dg" style="top:895px;line-height:19px;font-size:15.78px;letter-spacing:-0.63px;-webkit-text-stroke:0.63px #000;left:468.80px;width:44px;text-align:center;">2</div>
<div class="t dg" style="top:895px;line-height:19px;font-size:15.78px;letter-spacing:-0.63px;-webkit-text-stroke:0.63px #000;left:520.48px;width:44px;text-align:center;">3</div>
<div class="t dg" style="top:895px;line-height:19px;font-size:15.78px;letter-spacing:-0.63px;-webkit-text-stroke:0.63px #000;left:572.16px;width:44px;text-align:center;">4</div>
<div class="t dg" style="top:895px;line-height:19px;font-size:15.78px;letter-spacing:-0.63px;-webkit-text-stroke:0.63px #000;left:623.84px;width:44px;text-align:center;">5</div>
<div class="t dg" style="top:922px;line-height:19px;font-size:15.78px;letter-spacing:-0.63px;-webkit-text-stroke:0.63px #000;left:417.12px;width:44px;text-align:center;">8</div>
<div class="t dg" style="top:922px;line-height:19px;font-size:15.78px;letter-spacing:-0.63px;-webkit-text-stroke:0.63px #000;left:468.80px;width:44px;text-align:center;">9</div>
<div class="t dg" style="top:922px;line-height:19px;font-size:15.78px;letter-spacing:-0.63px;-webkit-text-stroke:0.63px #000;left:520.48px;width:44px;text-align:center;">10</div>
<div class="t dg" style="top:922px;line-height:19px;font-size:15.78px;letter-spacing:-0.63px;color:#fff;-webkit-text-stroke:1.18px #fff;left:572.16px;width:44px;text-align:center;">11</div>
<div class="t dg" style="top:922px;line-height:19px;font-size:15.78px;letter-spacing:-0.63px;-webkit-text-stroke:0.63px #000;left:623.84px;width:44px;text-align:center;">12</div>
<div class="t dg" style="top:949px;line-height:19px;font-size:15.78px;letter-spacing:-0.63px;-webkit-text-stroke:0.63px #000;left:417.12px;width:44px;text-align:center;">15</div>
<div class="t dg" style="top:949px;line-height:19px;font-size:15.78px;letter-spacing:-0.63px;-webkit-text-stroke:0.63px #000;left:468.80px;width:44px;text-align:center;">16</div>
<div class="t dg" style="top:949px;line-height:19px;font-size:15.78px;letter-spacing:-0.63px;-webkit-text-stroke:0.63px #000;left:520.48px;width:44px;text-align:center;">17</div>
<div class="t dg" style="top:949px;line-height:19px;font-size:15.78px;letter-spacing:-0.63px;-webkit-text-stroke:0.63px #000;left:572.16px;width:44px;text-align:center;">18</div>
<div class="t dg" style="top:949px;line-height:19px;font-size:15.78px;letter-spacing:-0.63px;-webkit-text-stroke:0.63px #000;left:623.84px;width:44px;text-align:center;">19</div>
<div class="t dg" style="top:976px;line-height:19px;font-size:15.78px;letter-spacing:-0.63px;-webkit-text-stroke:0.63px #000;left:417.12px;width:44px;text-align:center;">22</div>
<div class="t dg" style="top:976px;line-height:19px;font-size:15.78px;letter-spacing:-0.63px;-webkit-text-stroke:0.63px #000;left:468.80px;width:44px;text-align:center;">23</div>
<div class="t dg" style="top:976px;line-height:19px;font-size:15.78px;letter-spacing:-0.63px;-webkit-text-stroke:0.63px #000;left:520.48px;width:44px;text-align:center;">24</div>
<div class="t dg" style="top:976px;line-height:19px;font-size:15.78px;letter-spacing:-0.63px;-webkit-text-stroke:0.63px #000;left:572.16px;width:44px;text-align:center;">25</div>
<div class="t dg" style="top:976px;line-height:19px;font-size:15.78px;letter-spacing:-0.63px;-webkit-text-stroke:0.63px #000;left:623.84px;width:44px;text-align:center;">26</div>
<div class="t dg" style="top:1003px;line-height:19px;font-size:15.78px;letter-spacing:-0.63px;-webkit-text-stroke:0.63px #000;left:417.12px;width:44px;text-align:center;">29</div>
<div class="t dg" style="top:1003px;line-height:19px;font-size:15.78px;letter-spacing:-0.63px;-webkit-text-stroke:0.63px #000;left:468.80px;width:44px;text-align:center;">30</div>
</section>
<section class="notes">
<div class="t" style="top:1033px;line-height:16px;font-size:14.27px;letter-spacing:-0.27px;-webkit-text-stroke:0.57px #000;left:178.32px;">180  School Days</div>
<div class="t" style="top:1064px;line-height:16px;font-size:14.40px;letter-spacing:-0.18px;-webkit-text-stroke:0.58px #000;left:160.15px;">BOE Approved 2/11/2025</div>
</section>
<svg id="logo" width="280" height="275" viewBox="660 820 280 275" role="img" aria-label="Colchester Public Schools logo">
<path d="M900.9,840.6C899.1,840.7 894.1,841.1 890.0,841.4C885.9,841.6 880.6,841.9 876.0,842.1C871.4,842.3 867.1,842.4 862.4,842.4C857.7,842.4 852.7,842.3 848.0,842.1C843.3,841.9 838.3,841.6 834.0,841.3C829.7,841.0 825.8,840.7 822.0,840.4C818.2,840.1 814.9,839.8 811.3,839.8C807.7,839.7 804.1,839.7 800.5,839.9C796.9,840.1 793.3,840.4 789.7,840.9C786.1,841.4 782.5,842.0 779.0,842.8C775.5,843.7 771.9,844.7 768.5,845.9C765.1,847.0 761.6,848.4 758.3,850.0C755.0,851.5 751.8,853.2 748.6,855.1C745.5,857.0 742.4,859.0 739.5,861.2C736.5,863.4 733.7,865.7 730.9,868.2C728.2,870.6 725.5,873.2 723.0,875.9C720.5,878.6 718.1,881.3 715.8,884.2C713.5,887.1 711.3,890.1 709.2,893.1C707.1,896.2 705.1,899.3 703.3,902.6C701.4,905.8 699.7,909.1 698.1,912.5C696.5,915.9 695.1,919.4 693.8,922.9C692.5,926.5 691.4,930.1 690.5,933.8C689.6,937.4 688.8,941.2 688.3,944.9C687.8,948.7 687.5,952.5 687.4,956.3C687.4,960.1 687.5,964.0 687.9,967.7C688.3,971.5 689.0,975.3 689.9,979.0C690.8,982.6 691.9,986.3 693.2,989.8C694.6,993.4 696.1,996.8 697.9,1000.1C699.6,1003.5 701.6,1006.7 703.6,1009.8C705.7,1012.8 708.0,1015.8 710.3,1018.6C712.6,1021.5 715.1,1024.2 717.6,1026.8C720.1,1029.4 722.7,1031.8 725.4,1034.2C728.0,1036.6 730.8,1038.9 733.5,1041.1C736.3,1043.3 739.1,1045.4 741.9,1047.5C744.7,1049.6 747.6,1051.5 750.5,1053.5C753.5,1055.4 756.4,1057.2 759.5,1058.9C762.5,1060.7 765.6,1062.4 768.8,1063.9C772.0,1065.4 775.3,1066.8 778.6,1068.1C781.9,1069.3 785.3,1070.4 788.8,1071.2C792.2,1072.1 795.8,1072.7 799.3,1073.1C802.8,1073.6 804.2,1074.1 810.0,1073.8C815.8,1073.5 826.4,1071.8 833.9,1071.2C841.4,1070.7 847.2,1070.3 855.2,1070.5C863.2,1070.7 877.2,1072.2 881.6,1072.5Q896.5,1048 904.4,1029.2C902.1,1031.7 896.2,1039.8 890.6,1044.1C885.0,1048.4 878.1,1052.3 870.9,1055.2C863.7,1058.1 853.6,1060.2 847.3,1061.5C841.0,1062.8 837.2,1062.9 833.0,1063.0C828.8,1063.1 825.6,1062.5 821.9,1062.0C818.3,1061.5 814.8,1060.9 811.3,1060.1C807.8,1059.4 804.4,1058.4 801.1,1057.3C797.8,1056.2 794.6,1055.0 791.5,1053.6C788.4,1052.2 785.4,1050.7 782.5,1049.1C779.6,1047.4 776.8,1045.6 774.1,1043.8C771.5,1041.9 768.9,1039.9 766.5,1037.9C764.0,1035.9 761.7,1033.7 759.5,1031.5C757.3,1029.3 755.2,1027.0 753.2,1024.7C751.2,1022.4 749.3,1020.0 747.6,1017.6C745.8,1015.1 744.1,1012.7 742.6,1010.2C741.0,1007.6 739.5,1005.1 738.1,1002.5C736.8,999.9 735.5,997.3 734.3,994.6C733.1,992.0 732.0,989.3 731.0,986.5C730.0,983.8 729.1,981.1 728.3,978.3C727.4,975.5 726.7,972.6 726.1,969.8C725.4,966.9 724.9,964.0 724.5,961.1C724.0,958.1 723.7,955.1 723.5,952.1C723.3,949.1 723.2,946.1 723.2,943.0C723.2,940.0 723.4,936.9 723.7,933.8C724.0,930.6 724.4,927.5 725.0,924.4C725.5,921.3 726.3,918.1 727.2,915.0C728.1,911.9 729.1,908.8 730.4,905.7C731.6,902.7 733.1,899.7 734.7,896.7C736.3,893.8 738.1,890.9 740.1,888.2C742.0,885.4 744.2,882.8 746.5,880.3C748.8,877.8 751.4,875.4 754.0,873.2C756.6,870.9 759.4,868.9 762.4,867.0C765.3,865.1 768.3,863.4 771.5,861.9C774.6,860.4 777.9,859.0 781.2,857.9C784.5,856.7 787.8,855.7 791.2,854.9C794.7,854.0 798.1,853.4 801.6,852.8C805.1,852.2 808.6,851.8 812.2,851.5C815.8,851.2 819.3,851.0 823.0,850.9C826.6,850.7 827.4,850.4 834.0,850.8C840.6,851.2 853.0,852.1 862.4,853.3C871.8,854.5 885.9,857.4 890.6,858.2Q896,872 903,894.3L900.9,840.6Z" fill="#302c82"/>
<path d="M833.8,843.5C831.8,843.5 825.6,843.5 821.8,843.6C818.0,843.7 814.7,843.8 811.2,843.9C807.7,844.1 804.2,844.1 800.7,844.4C797.3,844.7 793.8,845.1 790.4,845.7C786.9,846.2 783.5,846.9 780.2,847.8C776.8,848.7 773.5,849.7 770.2,850.9C767.0,852.1 763.8,853.4 760.7,854.9C757.5,856.5 754.5,858.1 751.5,860.0C748.6,861.8 745.7,863.8 742.9,865.9C740.1,868.0 737.4,870.2 734.9,872.6C732.3,875.0 729.8,877.4 727.4,880.0C725.0,882.6 722.7,885.3 720.5,888.1C718.4,890.8 716.3,893.7 714.3,896.6C712.3,899.6 710.4,902.6 708.7,905.7C707.0,908.8 705.3,911.9 703.8,915.2C702.3,918.4 701.0,921.7 699.8,925.1C698.6,928.4 697.5,931.9 696.7,935.3C695.8,938.8 695.1,942.3 694.6,945.8C694.2,949.3 693.9,952.9 693.8,956.4C693.8,960.0 693.9,963.5 694.3,967.0C694.7,970.5 695.3,974.1 696.1,977.5C696.9,980.9 697.9,984.3 699.1,987.6C700.4,990.9 701.8,994.1 703.4,997.2C705.0,1000.4 706.9,1003.4 708.8,1006.3C710.7,1009.2 712.8,1012.0 715.0,1014.8C717.2,1017.5 719.5,1020.1 721.9,1022.6C724.3,1025.1 726.8,1027.5 729.4,1029.8C731.9,1032.2 734.5,1034.4 737.1,1036.6C739.8,1038.8 742.5,1040.9 745.2,1042.9C747.9,1045.0 750.7,1046.9 753.5,1048.8C756.3,1050.8 759.2,1052.6 762.1,1054.3C765.0,1056.1 768.0,1057.8 771.0,1059.3C774.0,1060.8 777.1,1062.3 780.3,1063.5C783.4,1064.8 786.6,1065.9 789.9,1066.8C793.1,1067.7 796.4,1068.4 799.8,1069.0C803.2,1069.6 804.5,1070.5 810.2,1070.6C815.9,1070.7 829.9,1069.9 833.9,1069.8L833.9,1067.4C832.0,1067.3 826.2,1067.0 822.5,1066.7C818.7,1066.4 815.0,1066.1 811.4,1065.6C807.7,1065.1 804.1,1064.5 800.6,1063.8C797.0,1063.1 793.5,1062.3 790.0,1061.3C786.6,1060.3 783.2,1059.1 779.9,1057.9C776.5,1056.6 773.3,1055.2 770.1,1053.6C766.9,1052.1 763.8,1050.4 760.8,1048.5C757.8,1046.7 754.8,1044.8 752.0,1042.7C749.1,1040.6 746.4,1038.4 743.7,1036.1C741.1,1033.8 738.5,1031.4 736.1,1028.9C733.6,1026.4 731.3,1023.7 729.1,1021.0C726.8,1018.3 724.7,1015.4 722.8,1012.5C720.8,1009.5 719.0,1006.5 717.4,1003.4C715.7,1000.2 714.2,997.0 712.9,993.7C711.6,990.4 710.4,987.0 709.4,983.6C708.5,980.2 707.7,976.7 707.1,973.2C706.5,969.7 706.1,966.1 705.9,962.5C705.7,959.0 705.7,955.4 705.8,951.8C706.0,948.2 706.3,944.7 706.8,941.1C707.3,937.6 707.9,934.1 708.7,930.6C709.5,927.1 710.5,923.6 711.6,920.2C712.7,916.8 714.0,913.4 715.4,910.0C716.7,906.7 718.3,903.4 720.0,900.2C721.7,897.0 723.5,893.8 725.5,890.7C727.5,887.6 729.6,884.6 731.9,881.7C734.2,878.8 736.7,876.0 739.4,873.4C742.0,870.7 744.8,868.2 747.8,865.9C750.7,863.6 753.8,861.5 757.1,859.6C760.3,857.7 763.7,856.0 767.1,854.5C770.6,853.0 774.2,851.8 777.8,850.7C781.3,849.7 785.0,848.8 788.7,848.2C792.4,847.5 796.1,847.1 799.8,846.7C803.5,846.3 807.2,846.1 811.0,846.0C814.7,845.8 818.4,845.7 822.2,845.6C826.1,845.5 831.9,845.3 833.8,845.2Z" fill="#fff"/>
<defs><linearGradient id="tg" gradientUnits="userSpaceOnUse" x1="0" y1="962" x2="0" y2="868"><stop offset="0" stop-color="#ba8452"/><stop offset="0.35" stop-color="#b08a55"/><stop offset="0.7" stop-color="#908d4c"/><stop offset="1" stop-color="#7f9048"/></linearGradient><linearGradient id="rg" gradientUnits="userSpaceOnUse" x1="0" y1="1009" x2="0" y2="1062"><stop offset="0" stop-color="#2f9c3c"/><stop offset="0.3" stop-color="#6f9a46"/><stop offset="0.6" stop-color="#9a8f50"/><stop offset="1" stop-color="#bb8450"/></linearGradient></defs>
<g fill="url(#tg)"><path d="M806,962.6C807.0,962.5 810.4,962.6 812.0,961.8C813.6,961.0 815.1,959.8 815.8,958.0C816.5,956.2 816.9,953.5 816.4,951.0C815.9,948.5 812.6,944.6 813.0,943.0C813.4,941.4 817.2,941.2 819.0,941.5C820.8,941.8 822.3,945.0 824.0,945.0C825.7,945.0 827.2,941.8 829.0,941.5C830.8,941.2 834.5,941.4 835.0,943.0C835.5,944.6 832.2,948.5 831.8,951.0C831.4,953.5 831.7,956.2 832.4,958.0C833.1,959.8 834.4,961.0 836.0,961.8C837.6,962.6 841.0,962.5 842.0,962.6Z"/><polygon points="819.8,951.3 817.2,951.7 814.5,951.8 811.7,951.7 808.6,951.4 805.4,950.9 802.1,950.3 798.6,949.5 795.0,948.7 791.2,947.7 787.4,946.7 783.4,945.7 779.3,944.6 775.1,943.6 770.8,942.6 766.4,941.7 761.9,940.9 757.3,940.2 752.6,939.6 747.8,939.2 742.9,938.9 738.0,938.9 733.0,939.1 733.0,939.9 738.0,939.9 742.9,940.2 747.7,940.7 752.4,941.4 756.9,942.2 761.4,943.1 765.8,944.2 770.1,945.4 774.3,946.6 778.4,947.9 782.4,949.2 786.2,950.5 790.0,951.8 793.7,953.0 797.3,954.2 800.8,955.3 804.3,956.3 807.6,957.1 810.9,957.8 814.1,958.3 817.2,958.6 820.2,958.7"/><polygon points="817.2,956.1 814.9,957.2 812.6,958.1 810.3,958.8 807.9,959.4 805.6,959.8 803.2,960.0 800.8,960.2 798.4,960.3 796.0,960.2 793.5,960.1 791.1,960.0 788.7,959.8 786.2,959.5 783.8,959.3 781.3,959.0 778.8,958.7 776.4,958.5 773.9,958.3 771.4,958.1 768.9,958.0 766.5,958.0 764.0,958.1 764.0,958.9 766.4,958.9 768.9,959.1 771.3,959.3 773.8,959.6 776.2,959.9 778.6,960.2 781.1,960.6 783.5,961.0 786.0,961.4 788.4,961.8 790.9,962.1 793.4,962.4 795.8,962.7 798.3,962.8 800.8,962.9 803.4,962.9 805.9,962.8 808.4,962.5 811.0,962.1 813.6,961.5 816.2,960.7 818.8,959.9"/><polygon points="821.1,946.9 819.2,946.5 817.4,945.9 815.5,945.1 813.5,944.0 811.5,942.7 809.3,941.3 807.1,939.7 804.8,938.1 802.5,936.3 800.1,934.6 797.6,932.7 795.1,930.9 792.5,929.1 789.8,927.3 787.0,925.6 784.1,924.0 781.2,922.5 778.1,921.2 775.0,920.0 771.8,919.0 768.5,918.2 765.1,917.6 764.9,918.4 768.2,919.2 771.4,920.1 774.5,921.3 777.4,922.7 780.3,924.2 783.1,925.8 785.7,927.6 788.3,929.4 790.8,931.3 793.3,933.3 795.6,935.3 797.9,937.3 800.2,939.2 802.4,941.2 804.5,943.1 806.6,944.9 808.7,946.6 810.7,948.2 812.8,949.6 814.9,951.0 817.0,952.1 818.9,953.1"/><polygon points="823.8,945.8 822.5,943.5 821.3,941.2 820.0,938.9 818.6,936.5 817.1,934.2 815.6,931.8 814.1,929.5 812.5,927.1 810.8,924.8 809.1,922.4 807.4,920.0 805.6,917.6 803.8,915.3 801.9,912.9 800.0,910.5 798.1,908.1 796.2,905.7 794.2,903.3 792.3,900.9 790.3,898.5 788.3,896.2 786.3,893.8 785.7,894.2 787.5,896.8 789.3,899.3 791.2,901.8 793.0,904.3 794.8,906.8 796.5,909.3 798.3,911.8 800.0,914.3 801.7,916.8 803.3,919.3 804.9,921.7 806.4,924.2 807.9,926.6 809.4,929.1 810.7,931.5 812.1,933.9 813.3,936.3 814.5,938.7 815.6,941.1 816.6,943.5 817.5,945.8 818.2,948.2"/><polygon points="825.5,945.6 824.9,942.9 824.2,940.1 823.6,937.4 822.9,934.6 822.1,931.8 821.4,929.0 820.7,926.3 819.9,923.5 819.1,920.7 818.4,917.9 817.6,915.1 816.9,912.3 816.2,909.5 815.6,906.7 815.0,903.8 814.4,901.0 813.9,898.2 813.4,895.4 813.0,892.5 812.7,889.7 812.5,886.8 812.4,884.0 811.6,884.0 811.6,886.9 811.6,889.8 811.8,892.6 812.0,895.5 812.3,898.4 812.7,901.3 813.1,904.2 813.5,907.1 814.0,909.9 814.6,912.8 815.1,915.7 815.7,918.5 816.3,921.4 816.8,924.2 817.4,927.0 818.0,929.8 818.5,932.6 819.0,935.4 819.5,938.2 819.9,940.9 820.3,943.7 820.5,946.4"/><polygon points="828.0,945.9 827.7,943.1 827.6,940.2 827.5,937.3 827.6,934.3 827.7,931.3 827.9,928.2 828.1,925.1 828.4,921.9 828.7,918.7 829.0,915.4 829.4,912.1 829.7,908.7 830.0,905.4 830.3,902.0 830.6,898.5 830.8,895.1 830.9,891.6 831.0,888.1 831.0,884.6 830.9,881.1 830.7,877.5 830.4,874.0 829.6,874.0 829.7,877.6 829.7,881.1 829.6,884.6 829.4,888.0 829.2,891.5 828.8,894.9 828.4,898.3 827.9,901.7 827.5,905.0 826.9,908.4 826.4,911.7 825.8,914.9 825.3,918.2 824.7,921.4 824.2,924.6 823.7,927.8 823.3,930.9 822.9,934.0 822.6,937.1 822.3,940.1 822.1,943.1 822.0,946.1"/><polygon points="829.9,946.9 830.4,944.4 831.1,941.9 831.9,939.3 832.8,936.6 833.9,933.9 835.0,931.1 836.2,928.2 837.4,925.3 838.7,922.3 840.0,919.3 841.4,916.3 842.7,913.2 844.0,910.0 845.3,906.8 846.6,903.6 847.8,900.3 849.0,897.0 850.1,893.7 851.1,890.3 851.9,886.9 852.7,883.5 853.4,880.1 852.6,879.9 851.8,883.3 850.8,886.6 849.7,889.9 848.6,893.2 847.3,896.4 846.0,899.6 844.6,902.7 843.1,905.9 841.7,908.9 840.2,912.0 838.6,915.0 837.1,917.9 835.6,920.9 834.1,923.7 832.6,926.6 831.2,929.4 829.8,932.1 828.5,934.8 827.3,937.5 826.2,940.1 825.1,942.7 824.1,945.1"/><polygon points="831.1,950.5 832.5,949.0 834.0,947.6 835.8,946.2 837.7,944.8 839.8,943.4 842.1,941.9 844.5,940.4 847.1,938.9 849.8,937.3 852.5,935.6 855.4,933.9 858.4,932.1 861.4,930.3 864.5,928.3 867.6,926.2 870.8,924.1 874.1,921.8 877.3,919.4 880.5,916.8 883.8,914.1 887.0,911.3 890.3,908.3 889.7,907.7 886.4,910.5 883.0,913.2 879.7,915.7 876.3,918.0 873.0,920.3 869.7,922.3 866.4,924.3 863.2,926.1 860.0,927.9 856.9,929.5 853.8,931.1 850.9,932.6 848.0,934.0 845.2,935.4 842.5,936.7 839.9,938.0 837.4,939.3 835.1,940.5 832.8,941.8 830.7,943.0 828.7,944.3 826.9,945.5"/><polygon points="829.3,953.2 831.5,952.8 833.8,952.4 836.1,951.9 838.5,951.4 840.9,950.9 843.4,950.3 845.9,949.7 848.4,949.0 851.0,948.3 853.6,947.5 856.2,946.6 858.9,945.7 861.5,944.7 864.2,943.6 866.8,942.4 869.5,941.1 872.2,939.8 874.8,938.3 877.4,936.7 880.1,935.0 882.7,933.2 885.2,931.3 884.8,930.7 882.1,932.5 879.5,934.1 876.8,935.7 874.2,937.1 871.5,938.4 868.8,939.6 866.1,940.8 863.5,941.8 860.8,942.7 858.2,943.6 855.5,944.4 852.9,945.1 850.3,945.7 847.8,946.3 845.2,946.8 842.7,947.2 840.3,947.6 837.9,947.9 835.5,948.2 833.2,948.4 830.9,948.6 828.7,948.8"/><polygon points="829.2,958.2 831.7,957.8 834.2,957.6 836.7,957.5 839.3,957.5 841.9,957.7 844.6,957.9 847.4,958.3 850.2,958.6 853.1,959.1 856.0,959.5 859.1,960.0 862.2,960.5 865.3,961.0 868.6,961.4 872.0,961.8 875.4,962.1 878.9,962.4 882.5,962.5 886.2,962.6 890.1,962.5 894.0,962.3 898.0,961.9 898.0,961.1 893.9,961.3 890.1,961.3 886.3,961.1 882.6,960.9 879.1,960.5 875.6,960.0 872.3,959.5 869.0,958.9 865.8,958.2 862.7,957.6 859.7,956.9 856.7,956.1 853.8,955.4 850.9,954.8 848.1,954.1 845.3,953.5 842.5,953.0 839.8,952.5 837.0,952.2 834.2,951.9 831.5,951.8 828.8,951.8"/><polygon points="790.6,948.5 788.9,948.6 787.1,948.9 785.4,949.1 783.7,949.5 782.0,949.9 780.4,950.4 778.7,951.0 777.1,951.6 775.5,952.3 773.9,953.1 772.3,953.9 770.7,954.8 769.2,955.8 767.6,956.9 768.0,957.4 769.5,956.4 771.1,955.6 772.7,954.8 774.3,954.1 775.9,953.4 777.5,952.8 779.2,952.4 780.8,951.9 782.4,951.6 784.0,951.3 785.7,951.1 787.3,951.0 789.0,951.0 790.7,951.1"/><polygon points="775.3,944.0 774.2,943.5 773.1,942.9 772.0,942.2 771.0,941.6 770.0,940.8 769.0,940.1 768.0,939.3 767.1,938.4 766.2,937.5 765.3,936.6 764.4,935.6 763.5,934.6 762.7,933.6 761.9,932.5 761.4,932.8 762.1,934.0 762.9,935.1 763.6,936.2 764.4,937.3 765.3,938.3 766.1,939.3 767.0,940.3 767.9,941.3 768.9,942.2 769.9,943.0 770.9,943.9 771.9,944.7 773.0,945.5 774.0,946.2"/><polygon points="752.3,939.2 751.5,939.4 750.7,939.6 749.9,939.9 749.2,940.2 748.4,940.4 747.7,940.8 746.9,941.1 746.2,941.5 745.5,941.9 744.8,942.3 744.1,942.7 743.4,943.2 742.7,943.7 742.0,944.2 742.4,944.7 743.1,944.3 743.8,943.9 744.5,943.5 745.2,943.2 746.0,942.9 746.7,942.7 747.4,942.5 748.2,942.3 748.9,942.1 749.6,942.0 750.4,941.8 751.1,941.8 751.9,941.7 752.6,941.8"/><polygon points="789.0,959.6 788.3,959.4 787.6,959.2 786.9,958.9 786.2,958.6 785.5,958.3 784.8,958.0 784.2,957.6 783.5,957.2 782.9,956.8 782.2,956.3 781.6,955.8 781.0,955.3 780.4,954.8 779.8,954.2 779.4,954.6 779.9,955.3 780.4,955.9 781.0,956.5 781.5,957.1 782.1,957.7 782.7,958.3 783.3,958.8 784.0,959.3 784.6,959.8 785.3,960.3 785.9,960.7 786.6,961.2 787.4,961.6 788.1,962.0"/><polygon points="802.4,937.1 801.4,935.7 800.5,934.3 799.7,932.9 798.9,931.5 798.2,930.0 797.6,928.4 797.0,926.8 796.5,925.2 796.0,923.6 795.7,921.9 795.3,920.2 795.1,918.4 794.9,916.6 794.8,914.8 794.2,914.8 794.2,916.6 794.3,918.5 794.4,920.3 794.6,922.1 794.9,923.8 795.2,925.6 795.6,927.3 796.1,928.9 796.6,930.6 797.2,932.2 797.9,933.8 798.6,935.4 799.4,937.0 800.2,938.5"/><polygon points="792.1,929.0 790.7,928.6 789.3,928.2 787.9,927.9 786.4,927.6 785.0,927.4 783.6,927.2 782.1,927.0 780.7,926.9 779.2,926.9 777.7,926.9 776.3,926.9 774.8,927.0 773.3,927.2 771.8,927.4 771.8,928.0 773.3,927.9 774.8,927.9 776.3,927.9 777.7,927.9 779.1,928.1 780.6,928.2 781.9,928.5 783.3,928.7 784.7,929.0 786.0,929.4 787.3,929.8 788.6,930.3 789.9,930.8 791.2,931.4"/><polygon points="778.6,920.9 778.0,920.5 777.3,920.1 776.7,919.6 776.2,919.2 775.6,918.7 775.1,918.1 774.6,917.6 774.1,917.0 773.6,916.4 773.1,915.8 772.7,915.1 772.2,914.4 771.8,913.7 771.4,913.0 770.9,913.3 771.2,914.1 771.5,914.8 771.8,915.6 772.2,916.3 772.6,917.0 773.0,917.8 773.4,918.4 773.8,919.1 774.3,919.8 774.8,920.4 775.3,921.1 775.9,921.7 776.4,922.3 777.0,922.9"/><polygon points="807.0,919.9 805.8,919.0 804.6,918.2 803.3,917.4 802.1,916.7 800.8,916.0 799.5,915.3 798.2,914.7 796.9,914.1 795.5,913.6 794.1,913.1 792.7,912.7 791.3,912.3 789.8,911.9 788.3,911.6 788.2,912.2 789.6,912.6 791.0,913.1 792.4,913.6 793.7,914.1 795.1,914.7 796.3,915.3 797.6,916.0 798.8,916.7 799.9,917.4 801.1,918.2 802.2,919.1 803.3,920.0 804.3,920.9 805.3,921.9"/><polygon points="800.4,910.7 799.9,909.8 799.5,908.8 799.2,907.9 798.9,906.9 798.6,905.9 798.4,904.9 798.2,903.8 798.1,902.8 798.0,901.7 797.9,900.7 797.9,899.6 797.9,898.5 798.0,897.4 798.1,896.3 797.5,896.2 797.3,897.3 797.1,898.4 796.9,899.5 796.8,900.7 796.8,901.8 796.7,902.9 796.8,904.0 796.8,905.1 796.9,906.2 797.0,907.3 797.2,908.3 797.4,909.4 797.7,910.5 797.9,911.6"/><polygon points="816.9,911.9 816.3,911.0 815.6,910.1 815.0,909.2 814.3,908.4 813.6,907.5 812.9,906.7 812.1,905.9 811.4,905.1 810.5,904.4 809.7,903.6 808.8,902.9 807.9,902.3 807.0,901.6 806.1,901.0 805.7,901.5 806.6,902.2 807.4,902.9 808.2,903.7 809.0,904.4 809.7,905.2 810.4,906.0 811.0,906.8 811.7,907.7 812.2,908.5 812.8,909.4 813.3,910.3 813.8,911.2 814.2,912.2 814.6,913.1"/><polygon points="829.1,912.3 829.5,911.1 829.9,909.8 830.4,908.6 830.9,907.4 831.5,906.2 832.1,905.0 832.8,903.9 833.5,902.7 834.2,901.6 835.0,900.5 835.8,899.4 836.7,898.3 837.6,897.3 838.5,896.2 838.1,895.8 837.1,896.8 836.1,897.8 835.1,898.8 834.1,899.8 833.2,900.9 832.4,902.0 831.5,903.1 830.7,904.2 830.0,905.3 829.3,906.5 828.6,907.7 827.9,908.9 827.3,910.2 826.7,911.4"/><polygon points="830.4,901.6 830.1,900.6 829.8,899.5 829.5,898.4 829.1,897.4 828.7,896.4 828.3,895.4 827.9,894.4 827.4,893.4 826.8,892.4 826.3,891.5 825.7,890.5 825.0,889.6 824.4,888.7 823.7,887.8 823.2,888.1 823.8,889.1 824.3,890.0 824.8,891.0 825.3,892.0 825.8,892.9 826.2,893.9 826.5,894.9 826.8,895.9 827.1,896.9 827.3,897.9 827.5,898.9 827.7,899.9 827.8,901.0 827.8,902.0"/><polygon points="841.0,916.5 841.8,915.4 842.7,914.3 843.7,913.3 844.6,912.4 845.7,911.4 846.7,910.6 847.9,909.7 849.0,908.9 850.2,908.2 851.5,907.4 852.7,906.7 854.1,906.1 855.4,905.5 856.8,904.9 856.6,904.4 855.2,904.8 853.7,905.3 852.3,905.9 851.0,906.5 849.6,907.1 848.3,907.8 847.1,908.5 845.8,909.3 844.6,910.1 843.4,910.9 842.3,911.8 841.2,912.8 840.1,913.8 839.0,914.8"/><polygon points="846.9,903.3 846.9,902.4 846.9,901.4 846.9,900.4 846.8,899.5 846.7,898.5 846.6,897.6 846.4,896.6 846.3,895.7 846.0,894.8 845.8,893.8 845.5,892.9 845.2,892.0 844.9,891.1 844.5,890.1 843.9,890.3 844.2,891.3 844.4,892.2 844.6,893.1 844.8,894.0 844.9,895.0 845.0,895.9 845.0,896.8 845.0,897.7 845.0,898.6 844.9,899.5 844.8,900.4 844.7,901.2 844.5,902.1 844.3,903.0"/><polygon points="849.8,936.5 850.9,935.2 852.0,933.8 853.0,932.4 854.0,930.9 854.8,929.4 855.7,927.9 856.5,926.3 857.2,924.7 857.8,923.1 858.4,921.4 858.9,919.7 859.4,918.0 859.8,916.2 860.1,914.4 859.5,914.2 859.1,916.0 858.6,917.7 858.0,919.4 857.4,921.1 856.7,922.6 856.0,924.2 855.2,925.7 854.3,927.1 853.4,928.5 852.4,929.9 851.4,931.2 850.3,932.4 849.2,933.6 847.9,934.7"/><polygon points="861.0,930.3 862.3,929.9 863.5,929.6 864.8,929.3 866.1,929.1 867.4,928.9 868.7,928.8 870.0,928.7 871.4,928.7 872.7,928.8 874.1,928.9 875.4,929.0 876.8,929.2 878.2,929.5 879.6,929.8 879.8,929.2 878.4,928.8 877.0,928.4 875.6,928.1 874.2,927.8 872.8,927.6 871.5,927.4 870.1,927.3 868.7,927.2 867.3,927.2 865.9,927.2 864.5,927.3 863.2,927.4 861.8,927.6 860.4,927.8"/><polygon points="877.8,919.5 878.2,918.8 878.7,918.1 879.1,917.4 879.4,916.7 879.8,915.9 880.1,915.2 880.4,914.4 880.7,913.7 880.9,912.9 881.2,912.1 881.4,911.3 881.6,910.5 881.7,909.7 881.8,908.8 881.3,908.7 881.0,909.5 880.8,910.3 880.5,911.0 880.2,911.7 879.8,912.4 879.5,913.1 879.1,913.8 878.7,914.4 878.3,915.1 877.8,915.7 877.4,916.3 876.9,916.8 876.4,917.4 875.8,917.9"/><polygon points="858.6,945.9 859.5,945.8 860.4,945.7 861.2,945.6 862.1,945.6 863.0,945.6 863.9,945.6 864.8,945.7 865.7,945.8 866.6,945.9 867.5,946.1 868.5,946.3 869.4,946.6 870.3,946.8 871.2,947.2 871.4,946.6 870.5,946.2 869.6,945.8 868.7,945.4 867.8,945.1 866.9,944.8 866.0,944.5 865.1,944.2 864.1,944.0 863.2,943.8 862.3,943.7 861.3,943.6 860.4,943.5 859.4,943.4 858.4,943.3"/><polygon points="856.5,959.1 857.9,958.9 859.2,958.6 860.6,958.3 861.9,957.9 863.2,957.5 864.5,957.0 865.8,956.5 867.1,955.9 868.3,955.3 869.6,954.7 870.8,953.9 872.0,953.2 873.2,952.4 874.4,951.5 874.0,951.0 872.8,951.8 871.6,952.5 870.3,953.1 869.1,953.7 867.8,954.2 866.6,954.7 865.3,955.1 864.0,955.5 862.8,955.8 861.5,956.1 860.2,956.3 858.9,956.4 857.6,956.5 856.2,956.5"/><polygon points="871.6,961.8 872.5,962.0 873.2,962.3 874.0,962.6 874.8,962.9 875.5,963.2 876.3,963.6 877.0,964.0 877.7,964.4 878.5,964.8 879.2,965.3 879.9,965.8 880.5,966.4 881.2,966.9 881.9,967.5 882.3,967.1 881.7,966.4 881.1,965.7 880.5,965.1 879.8,964.5 879.2,963.9 878.5,963.3 877.8,962.8 877.1,962.2 876.4,961.7 875.7,961.2 874.9,960.8 874.1,960.3 873.4,959.9 872.6,959.4"/><path d="M776.8,945.7C772.4,944.5 768.3,947.8 767.3,952.3C771.9,952.9 776.4,950.2 776.8,945.7ZM768.5,943.5C770.2,939.5 767.6,935.6 763.4,934.3C762.2,938.6 764.2,942.9 768.5,943.5ZM757.9,941.3C753.5,940.3 749.9,943.7 749.3,948.2C753.9,948.6 757.9,945.7 757.9,941.3ZM749.2,940.1C749.7,935.7 745.9,932.4 741.3,932.3C741.5,936.9 744.8,940.6 749.2,940.1ZM738.5,939.4C734.2,937.8 729.5,940.7 727.7,945.2C732.4,946.2 737.4,943.9 738.5,939.4ZM734.5,939.5C731.4,936.0 725.7,936.3 721.9,939.4C725.7,942.6 731.3,943.0 734.5,939.5ZM791.2,961.1C791.7,956.6 787.9,953.0 783.3,952.5C783.4,957.2 786.7,961.3 791.2,961.1ZM778.8,959.5C774.4,957.5 769.0,960.1 766.5,964.5C771.3,965.9 777.0,964.0 778.8,959.5ZM769.2,958.6C769.1,954.2 765.0,951.7 760.6,952.4C761.3,956.8 765.0,959.9 769.2,958.6ZM765.5,958.5C762.4,955.0 756.7,955.3 752.9,958.4C756.6,961.5 762.3,961.9 765.5,958.5ZM793.7,931.8C795.8,927.6 793.3,922.6 789.1,920.4C787.6,925.0 789.3,930.2 793.7,931.8ZM786.2,926.5C783.0,923.0 777.3,923.3 773.4,926.4C777.2,929.6 783.0,929.9 786.2,926.5ZM776.7,921.5C778.6,917.3 776.0,912.5 771.7,910.5C770.4,915.1 772.3,920.2 776.7,921.5ZM766.5,918.3C762.1,917.2 758.0,920.6 756.8,925.2C761.6,925.7 766.1,922.9 766.5,918.3ZM766.5,918.3C764.2,914.2 758.6,913.3 754.2,915.5C757.2,919.4 762.6,921.0 766.5,918.3ZM805.1,919.5C803.2,915.1 797.6,913.5 792.8,915.1C795.5,919.3 800.9,921.6 805.1,919.5ZM798.5,910.3C801.8,907.1 801.2,901.6 797.9,898.0C795.0,901.8 794.9,907.4 798.5,910.3ZM792.1,901.8C789.1,898.2 783.3,898.1 779.3,901.0C782.9,904.4 788.6,905.1 792.1,901.8ZM786.2,894.2C790.2,892.4 790.9,887.7 788.6,883.9C784.9,886.3 783.4,890.9 786.2,894.2ZM786.9,895.2C787.7,890.6 784.0,886.3 779.2,885.2C779.0,890.1 782.3,894.8 786.9,895.2ZM816.3,915.2C816.7,910.6 812.6,907.0 807.9,906.7C808.2,911.4 811.8,915.5 816.3,915.2ZM814.5,906.8C819.2,906.0 822.1,900.9 821.6,896.0C816.9,897.5 813.4,902.2 814.5,906.8ZM812.8,896.1C812.4,891.7 808.0,889.1 803.4,889.8C804.5,894.3 808.5,897.4 812.8,896.1ZM812.0,884.9C816.6,884.8 820.0,880.5 820.1,875.6C815.3,876.3 811.4,880.3 812.0,884.9ZM812.0,885.5C815.4,882.2 814.9,876.6 811.6,872.9C808.6,876.8 808.5,882.5 812.0,885.5ZM828.1,910.0C832.5,911.4 836.8,908.2 838.2,903.7C833.5,903.0 828.8,905.5 828.1,910.0ZM829.4,898.9C831.3,894.6 828.6,889.5 824.2,887.3C822.9,892.1 825.0,897.4 829.4,898.9ZM830.2,887.8C834.9,888.6 839.5,884.8 840.7,879.9C835.7,879.8 830.8,883.1 830.2,887.8ZM830.2,878.2C830.9,873.6 827.1,869.4 822.3,868.5C822.2,873.4 825.6,878.0 830.2,878.2ZM830.1,875.5C833.4,872.2 832.8,866.5 829.5,862.9C826.6,866.8 826.5,872.5 830.1,875.5ZM841.0,913.4C843.8,909.6 842.3,904.3 838.5,901.2C836.2,905.5 837.0,911.1 841.0,913.4ZM845.3,903.8C849.6,905.2 853.6,902.1 854.7,897.7C850.2,896.9 845.8,899.4 845.3,903.8ZM849.4,893.1C851.6,888.7 849.2,883.1 844.9,880.4C843.3,885.2 845.0,891.1 849.4,893.1ZM852.3,883.0C856.8,883.4 860.3,879.4 860.6,874.8C855.9,875.0 851.9,878.5 852.3,883.0ZM852.7,881.5C856.8,879.2 857.7,873.6 855.6,869.2C851.7,872.2 850.0,877.6 852.7,881.5ZM860.3,929.3C862.5,933.6 868.3,935.1 873.0,933.3C870.2,929.1 864.6,927.0 860.3,929.3ZM868.5,924.3C872.7,922.7 874.1,917.7 872.3,913.5C868.2,915.7 866.2,920.5 868.5,924.3ZM878.5,917.5C880.3,921.5 885.0,922.3 888.9,920.1C886.6,916.2 882.0,914.7 878.5,917.5ZM885.7,911.8C889.8,910.1 890.8,905.2 888.8,901.2C884.8,903.5 883.1,908.2 885.7,911.8ZM888.9,909.0C893.5,909.6 897.6,905.6 898.4,900.8C893.5,900.9 889.0,904.3 888.9,909.0ZM858.4,944.7C859.8,948.7 864.3,949.7 868.1,947.6C866.1,943.8 861.8,942.1 858.4,944.7ZM867.8,941.0C872.3,940.0 874.7,935.0 873.7,930.3C869.2,932.0 866.2,936.6 867.8,941.0ZM878.8,935.2C880.9,939.2 886.3,940.1 890.5,937.9C887.7,934.1 882.5,932.5 878.8,935.2ZM883.8,931.8C888.3,932.9 892.8,929.4 894.2,924.7C889.3,924.3 884.4,927.2 883.8,931.8ZM863.4,959.2C862.9,964.0 867.1,968.3 872.1,969.3C871.8,964.3 868.2,959.5 863.4,959.2ZM875.7,961.1C880.2,961.9 884.3,958.2 885.2,953.5C880.4,953.3 875.9,956.5 875.7,961.1ZM885.7,961.8C885.7,966.4 890.1,969.6 894.8,969.5C894.1,964.8 890.2,961.1 885.7,961.8ZM895.8,961.6C900.6,962.4 905.3,958.4 906.8,953.4C901.6,953.4 896.5,956.8 895.8,961.6ZM896.5,961.6C899.8,964.9 905.5,964.3 909.1,961.0C905.2,958.0 899.5,958.0 896.5,961.6ZM782.2,950.8C781.2,946.9 777.1,945.6 773.4,947.2C774.9,950.9 778.8,952.8 782.2,950.8ZM775.0,953.2C771.0,953.4 768.8,957.2 769.6,961.2C773.6,960.4 776.3,957.0 775.0,953.2ZM769.1,956.3C764.9,955.1 760.7,958.1 759.2,962.4C763.7,963.0 768.3,960.6 769.1,956.3ZM769.5,941.5C771.5,938.0 769.6,933.9 765.8,932.1C764.2,936.0 765.6,940.3 769.5,941.5ZM763.3,935.0C760.7,931.3 755.1,930.7 750.9,932.9C754.2,936.4 759.7,937.6 763.3,935.0ZM762.5,933.9C763.5,929.7 760.3,925.6 756.0,924.4C755.6,928.9 758.3,933.3 762.5,933.9ZM748.7,941.3C744.3,941.3 740.8,945.6 740.5,950.2C745.0,949.5 749.0,945.7 748.7,941.3ZM743.5,943.6C739.3,942.5 735.1,945.6 733.8,949.9C738.2,950.4 742.8,947.9 743.5,943.6ZM785.1,959.1C782.0,956.3 777.4,957.4 774.8,960.7C778.4,963.1 783.0,962.6 785.1,959.1ZM780.6,955.5C781.0,951.2 777.2,947.6 772.7,947.0C773.0,951.5 776.3,955.6 780.6,955.5ZM797.4,930.3C796.2,926.2 791.6,924.5 787.4,925.8C789.2,929.7 793.6,932.1 797.4,930.3ZM794.9,920.4C798.9,919.9 801.1,915.9 800.2,911.9C796.2,912.9 793.5,916.5 794.9,920.4ZM794.6,916.3C797.6,913.2 797.0,908.1 794.0,904.7C791.3,908.4 791.2,913.6 794.6,916.3ZM784.9,928.2C781.2,926.1 776.6,928.1 774.4,931.9C778.5,933.5 783.3,932.2 784.9,928.2ZM777.2,927.4C777.0,922.9 772.5,919.4 767.7,919.1C768.7,923.8 772.7,927.8 777.2,927.4ZM773.3,927.6C770.2,924.6 765.0,925.3 761.8,928.4C765.5,931.0 770.7,931.0 773.3,927.6ZM775.0,919.2C772.3,915.7 766.8,915.3 762.7,917.7C766.0,921.0 771.5,922.0 775.0,919.2ZM771.8,914.5C773.5,910.5 770.9,906.0 766.9,904.1C765.7,908.4 767.7,913.3 771.8,914.5ZM800.4,916.7C802.6,912.9 800.7,907.9 796.9,905.3C795.2,909.6 796.5,914.8 800.4,916.7ZM792.4,913.0C788.6,910.8 783.5,912.6 780.8,916.3C785.1,918.1 790.4,916.9 792.4,913.0ZM789.7,912.3C787.8,908.4 782.7,907.4 778.6,909.3C781.2,912.9 786.1,914.6 789.7,912.3ZM797.7,906.0C802.1,905.5 805.1,901.0 804.9,896.3C800.4,897.5 797.0,901.7 797.7,906.0ZM797.6,897.7C801.2,895.3 801.5,890.1 799.1,886.2C795.8,889.3 794.8,894.4 797.6,897.7ZM812.9,908.0C816.0,905.1 815.5,900.2 812.4,897.1C809.7,900.5 809.6,905.5 812.9,908.0ZM807.1,902.1C806.7,897.8 802.4,895.0 797.9,895.1C798.9,899.5 802.8,902.9 807.1,902.1ZM830.7,905.8C834.2,908.2 838.8,906.7 841.3,903.1C837.4,901.1 832.6,902.0 830.7,905.8ZM835.5,899.0C838.7,896.3 838.3,891.6 835.3,888.5C832.5,891.7 832.3,896.5 835.5,899.0ZM837.3,897.1C841.6,897.2 845.0,893.3 845.3,888.8C840.8,889.3 837.0,892.8 837.3,897.1ZM827.9,896.7C826.7,892.7 822.2,891.2 818.2,892.7C820.0,896.5 824.3,898.6 827.9,896.7ZM824.2,889.1C827.5,886.7 827.2,882.1 824.4,879.1C821.4,882.1 821.1,886.6 824.2,889.1ZM824.3,889.2C825.3,885.0 822.1,880.9 817.8,879.6C817.4,884.1 820.0,888.6 824.3,889.2ZM845.1,910.8C848.0,914.0 853.2,913.8 856.6,910.9C853.2,908.0 848.1,907.6 845.1,910.8ZM854.4,905.5C858.7,905.2 861.6,900.9 861.4,896.4C857.0,897.4 853.6,901.3 854.4,905.5ZM855.3,905.2C859.1,907.2 863.9,905.0 866.1,901.1C861.9,899.6 856.9,901.2 855.3,905.2ZM845.9,898.6C849.9,898.6 852.4,894.9 852.1,890.8C848.0,891.3 844.9,894.6 845.9,898.6ZM844.7,891.7C846.9,887.9 845.0,883.1 841.2,880.7C839.5,884.8 840.8,889.9 844.7,891.7ZM854.1,929.0C857.3,925.9 857.0,920.2 854.2,916.5C851.3,920.2 850.9,925.8 854.1,929.0ZM858.5,919.6C862.7,920.8 867.0,917.7 868.5,913.4C864.0,912.8 859.3,915.3 858.5,919.6ZM859.5,915.7C863.3,913.7 864.2,908.6 862.2,904.5C858.6,907.2 857.0,912.2 859.5,915.7ZM867.3,928.0C868.0,932.0 872.0,933.8 875.9,932.7C874.7,928.7 871.0,926.4 867.3,928.0ZM875.5,928.5C879.8,929.0 883.8,925.3 884.6,920.8C880.0,920.9 875.7,924.2 875.5,928.5ZM878.2,929.2C880.3,933.0 885.4,933.9 889.4,932.0C886.8,928.3 881.8,926.7 878.2,929.2ZM879.0,915.5C881.5,912.2 880.2,907.7 876.6,905.3C874.6,909.0 875.3,913.7 879.0,915.5ZM881.2,910.2C885.0,908.2 885.9,903.1 884.0,899.0C880.3,901.7 878.8,906.7 881.2,910.2ZM863.1,944.7C863.8,949.0 868.5,951.8 873.0,951.4C871.7,947.0 867.4,943.7 863.1,944.7ZM869.9,946.3C871.4,950.4 876.4,952.0 880.7,950.6C878.5,946.6 873.8,944.4 869.9,946.3ZM863.0,956.7C864.4,960.9 869.5,963.1 874.2,962.1C872.1,957.9 867.2,955.1 863.0,956.7ZM871.5,953.0C875.2,950.7 876.0,945.3 873.9,941.2C870.3,944.2 868.9,949.4 871.5,953.0ZM872.9,952.1C877.1,953.2 881.3,950.1 882.6,945.8C878.2,945.3 873.6,947.8 872.9,952.1ZM875.9,962.4C878.9,965.4 883.8,964.7 886.9,961.6C883.4,959.0 878.4,959.0 875.9,962.4ZM881.0,966.2C880.9,970.5 884.8,973.9 889.3,974.3C888.8,969.8 885.3,966.0 881.0,966.2Z"/></g>
<path fill="#0f9b55" d="M775.7,878.8C771.9,880.1 770.0,884.8 771.0,889.0C774.8,887.0 777.2,882.5 775.7,878.8ZM868.3,878.2C872.3,877.8 875.2,873.7 875.2,869.4C871.1,870.4 867.7,874.2 868.3,878.2ZM745.1,924.4C741.5,925.9 740.2,930.4 741.7,934.2C745.2,932.1 747.0,927.8 745.1,924.4ZM812.8,854.8C811.5,858.3 814.0,861.6 817.6,862.6C818.4,858.9 816.5,855.2 812.8,854.8ZM758.0,955.1C758.5,951.4 755.3,948.5 751.5,948.2C751.5,952.1 754.2,955.4 758.0,955.1ZM761.9,890.2C760.4,893.8 762.7,897.9 766.4,899.5C767.4,895.5 765.7,891.2 761.9,890.2ZM906.6,930.3C906.4,934.1 909.8,936.7 913.7,936.7C913.3,932.8 910.4,929.7 906.6,930.3ZM808.2,868.9C804.6,870.4 803.5,874.8 805.1,878.5C808.5,876.4 810.2,872.2 808.2,868.9ZM739.7,938.7C740.7,935.0 738.0,931.5 734.1,930.5C733.6,934.4 735.9,938.3 739.7,938.7ZM748.1,899.2C745.6,902.0 746.5,906.4 749.5,909.0C751.7,905.7 751.4,901.2 748.1,899.2ZM873.8,891.1C870.1,890.5 867.2,893.5 866.9,897.4C870.8,897.4 874.1,894.8 873.8,891.1ZM757.5,887.2C754.9,884.1 749.9,884.2 746.5,886.7C749.7,889.5 754.6,890.0 757.5,887.2ZM900.5,921.1C897.4,923.5 897.4,928.1 899.8,931.4C902.6,928.4 903.2,923.8 900.5,921.1ZM734.2,910.1C733.6,913.9 736.8,916.9 740.7,917.3C740.7,913.3 738.0,909.9 734.2,910.1ZM780.4,906.7C777.1,904.7 772.9,906.4 770.9,909.9C774.6,911.4 779.0,910.3 780.4,906.7ZM896.1,951.1C900.2,950.8 903.3,946.7 903.5,942.4C899.3,943.3 895.7,947.0 896.1,951.1ZM856.6,893.9C859.7,896.0 863.5,894.6 865.4,891.3C862.0,889.5 858.0,890.4 856.6,893.9ZM764.1,907.7C764.7,903.8 761.5,900.2 757.4,899.4C757.4,903.5 760.1,907.4 764.1,907.7ZM834.4,851.9C833.0,855.4 835.4,859.0 839.1,860.2C840.0,856.4 838.1,852.5 834.4,851.9ZM889.3,940.6C893.1,940.2 895.4,936.3 894.8,932.4C891.0,933.4 888.2,936.9 889.3,940.6ZM849.8,863.3C848.0,866.6 849.9,870.2 853.4,871.6C854.7,868.0 853.4,864.2 849.8,863.3ZM755.3,894.9C752.4,892.6 748.4,893.9 746.2,897.1C749.6,899.0 753.7,898.3 755.3,894.9ZM844.4,881.7C847.2,879.3 846.7,875.1 843.9,872.5C841.4,875.5 841.4,879.6 844.4,881.7ZM738.6,926.9C738.8,922.9 735.2,919.6 731.0,919.1C731.4,923.3 734.6,927.0 738.6,926.9ZM800.2,869.5C802.3,866.1 800.7,861.5 797.3,859.0C795.6,862.9 796.6,867.7 800.2,869.5ZM847.2,864.5C847.6,860.5 844.2,856.9 840.1,856.1C840.2,860.3 843.1,864.3 847.2,864.5ZM883.5,877.8C883.5,881.7 887.2,884.8 891.3,885.0C890.7,880.9 887.4,877.4 883.5,877.8ZM731.9,946.9C728.9,949.5 728.9,954.4 731.4,957.7C734.2,954.6 734.7,949.7 731.9,946.9ZM883.1,948.5C886.8,948.5 889.3,945.1 889.1,941.2C885.3,941.7 882.3,944.8 883.1,948.5ZM813.5,865.1C812.2,868.8 814.7,872.6 818.5,874.0C819.3,870.1 817.3,865.9 813.5,865.1ZM780.6,874.2C779.8,878.3 783.0,882.3 787.1,883.5C787.3,879.2 784.6,874.9 780.6,874.2ZM789.8,864.8C788.1,861.2 783.3,860.0 779.4,861.6C781.8,865.1 786.4,866.8 789.8,864.8ZM745.6,953.7C741.8,953.2 738.6,956.4 738.1,960.4C742.1,960.4 745.7,957.6 745.6,953.7ZM761.4,875.9C761.5,879.9 765.4,882.9 769.6,883.1C768.8,878.9 765.4,875.5 761.4,875.9ZM803.8,885.3C803.8,881.3 800.1,878.3 796.0,878.0C796.5,882.1 799.8,885.6 803.8,885.3ZM894.6,912.0C890.9,912.9 889.1,917.1 890.1,920.9C893.8,919.4 896.1,915.5 894.6,912.0ZM750.6,916.1C746.9,916.6 744.9,920.4 745.6,924.2C749.4,923.2 751.9,919.7 750.6,916.1ZM898.2,910.7C901.7,909.2 902.8,904.9 901.3,901.2C897.8,903.2 896.1,907.4 898.2,910.7ZM909.7,947.0C907.0,950.0 907.7,954.8 910.7,957.9C913.0,954.4 912.8,949.4 909.7,947.0ZM905.2,927.5C908.8,927.0 910.6,923.3 909.6,919.7C906.0,920.7 903.7,924.1 905.2,927.5ZM760.0,874.9C756.3,875.3 754.5,879.0 755.5,882.7C759.1,881.6 761.4,878.3 760.0,874.9ZM770.8,894.6C767.7,897.1 767.8,901.7 770.3,905.0C773.1,902.0 773.6,897.3 770.8,894.6ZM749.9,956.6C748.9,960.5 751.8,964.6 755.8,966.1C756.3,961.9 753.9,957.4 749.9,956.6ZM874.2,880.3C874.2,884.2 877.8,886.7 881.7,886.5C881.1,882.6 877.9,879.6 874.2,880.3ZM854.2,854.6C850.8,856.6 850.3,861.1 852.4,864.5C855.5,862.0 856.6,857.6 854.2,854.6ZM880.5,894.1C877.1,895.9 876.4,900.3 878.3,903.8C881.5,901.5 882.8,897.2 880.5,894.1ZM772.1,870.6C769.5,867.7 764.6,867.9 761.4,870.5C764.6,873.2 769.4,873.5 772.1,870.6ZM733.3,956.6C729.5,957.9 727.6,962.6 728.5,966.8C732.3,964.9 734.8,960.4 733.3,956.6ZM902.9,909.5C899.5,911.1 898.9,915.2 900.9,918.4C904.1,916.3 905.3,912.3 902.9,909.5ZM789.3,875.2C788.2,878.8 790.9,882.0 794.7,882.8C795.2,879.0 793.0,875.4 789.3,875.2ZM775.3,865.7C774.6,869.6 777.8,873.4 781.9,874.5C782.0,870.2 779.3,866.1 775.3,865.7ZM894.6,892.4C890.9,892.6 888.8,896.2 889.4,899.9C893.1,899.2 895.7,896.0 894.6,892.4ZM804.2,861.8C807.9,860.7 809.3,856.5 807.9,852.8C804.4,854.5 802.4,858.5 804.2,861.8ZM854.8,868.1C858.3,869.8 862.2,867.6 863.8,863.9C860.0,862.8 855.8,864.4 854.8,868.1ZM825.7,859.3C821.9,859.0 819.1,862.4 819.0,866.4C822.9,866.0 826.2,863.1 825.7,859.3ZM790.6,863.8C788.4,867.1 789.7,871.8 793.0,874.5C794.9,870.7 794.1,865.8 790.6,863.8ZM869.3,911.8C873.1,911.2 875.2,907.2 874.5,903.2C870.7,904.5 868.1,908.2 869.3,911.8ZM861.2,879.9C864.9,878.7 866.4,874.3 865.1,870.4C861.5,872.3 859.5,876.4 861.2,879.9ZM911.0,940.0C907.2,939.8 904.5,943.1 904.5,947.0C908.4,946.7 911.5,943.8 911.0,940.0ZM828.5,860.6C831.4,858.1 831.0,853.7 828.3,850.8C825.7,853.7 825.5,858.2 828.5,860.6ZM906.7,963.5C910.2,965.1 913.9,962.9 915.2,959.2C911.5,958.2 907.5,959.8 906.7,963.5ZM758.5,910.5C754.8,909.3 751.1,911.8 750.0,915.6C753.9,916.3 757.9,914.3 758.5,910.5ZM868.7,877.3C866.3,880.7 867.5,885.7 870.7,888.5C872.7,884.7 872.1,879.6 868.7,877.3ZM890.2,955.3C893.3,957.8 898.0,956.8 900.8,953.7C897.2,951.6 892.4,952.0 890.2,955.3ZM833.1,873.7C836.7,875.0 840.3,872.6 841.4,868.8C837.6,868.0 833.7,870.0 833.1,873.7ZM894.1,881.9C891.2,884.8 891.7,889.6 894.4,892.8C897.0,889.5 897.1,884.6 894.1,881.9ZM900.3,931.8C898.4,935.2 900.2,939.6 903.8,941.7C905.2,937.8 903.9,933.3 900.3,931.8ZM740.0,898.4C737.4,901.3 738.1,906.0 741.0,908.9C743.4,905.5 743.2,900.7 740.0,898.4ZM884.5,948.4C882.0,951.3 883.0,955.5 886.1,958.0C888.2,954.7 887.8,950.3 884.5,948.4ZM869.7,861.6C866.0,862.3 864.4,866.2 865.4,869.9C869.1,868.6 871.2,865.0 869.7,861.6ZM759.1,926.5C759.7,922.5 756.3,918.7 752.2,917.6C752.2,921.9 755.1,926.1 759.1,926.5ZM774.0,887.5C772.6,891.3 775.1,895.7 778.9,897.6C779.8,893.4 777.9,888.8 774.0,887.5ZM755.3,927.9C751.5,927.3 748.4,930.5 748.0,934.4C751.9,934.4 755.4,931.7 755.3,927.9ZM882.1,870.8C878.6,872.4 877.6,876.9 879.3,880.6C882.7,878.4 884.2,874.0 882.1,870.8ZM828.7,859.8C828.3,863.6 831.6,866.7 835.6,867.0C835.4,863.0 832.5,859.6 828.7,859.8ZM883.0,897.8C886.3,895.6 886.8,890.7 884.7,887.0C881.6,889.8 880.5,894.6 883.0,897.8ZM862.3,879.4C858.8,881.2 858.0,885.7 859.8,889.4C863.1,887.0 864.5,882.6 862.3,879.4ZM768.3,909.7C764.9,907.6 760.3,909.2 757.8,912.6C761.7,914.3 766.5,913.3 768.3,909.7ZM767.6,887.1C764.9,884.1 760.0,884.2 756.6,886.7C759.8,889.5 764.7,889.9 767.6,887.1ZM806.5,862.0C804.9,865.3 806.9,869.0 810.5,870.3C811.7,866.7 810.2,862.8 806.5,862.0ZM870.2,956.6C873.6,958.3 877.3,956.2 878.8,952.6C875.1,951.4 871.1,952.9 870.2,956.6ZM766.0,943.9C762.0,944.6 759.5,948.9 759.8,953.1C763.8,951.8 766.9,947.9 766.0,943.9ZM824.0,872.3C820.2,872.8 817.8,876.8 818.2,880.8C822.2,879.7 825.0,876.1 824.0,872.3ZM793.1,892.4C796.3,890.4 796.3,886.3 793.9,883.4C791.0,885.9 790.4,889.9 793.1,892.4ZM750.7,908.4C746.7,907.9 743.2,911.3 742.4,915.4C746.6,915.3 750.5,912.4 750.7,908.4ZM802.5,892.5C806.2,891.5 807.8,887.5 806.6,883.7C803.0,885.2 800.9,889.0 802.5,892.5ZM748.3,894.1C745.1,891.7 740.4,892.9 737.7,896.0C741.4,898.1 746.2,897.5 748.3,894.1ZM771.0,870.8C769.6,874.6 772.0,879.0 775.9,880.9C776.8,876.7 774.8,872.0 771.0,870.8ZM780.3,905.5C782.7,902.4 781.5,897.8 778.3,895.2C776.3,898.8 776.9,903.5 780.3,905.5ZM796.1,863.7C796.5,859.7 793.0,856.2 788.9,855.4C789.0,859.6 792.1,863.5 796.1,863.7ZM733.1,926.4C729.2,926.7 726.8,930.6 727.3,934.6C731.2,933.7 734.0,930.1 733.1,926.4ZM798.5,869.1C795.5,871.3 795.6,875.5 798.2,878.5C800.9,875.7 801.4,871.5 798.5,869.1ZM766.6,936.0C766.8,932.2 763.3,929.6 759.4,929.6C759.8,933.5 762.9,936.6 766.6,936.0ZM817.6,895.0C820.8,892.6 821.0,887.7 818.8,884.2C815.8,887.1 814.9,892.0 817.6,895.0ZM795.4,890.7C792.4,893.3 792.4,898.3 794.9,901.8C797.7,898.6 798.2,893.6 795.4,890.7ZM877.1,936.3C875.6,939.9 877.8,944.1 881.5,945.8C882.6,941.9 880.9,937.5 877.1,936.3Z"/>
<g fill="url(#rg)"><path d="M805.5,1009.6L833,1009.6C832.5,1013 834,1016 836,1019L803,1019C805,1016 806,1013 805.5,1009.6Z"/><polygon points="809.1,1009.0 807.0,1008.8 804.9,1008.5 802.7,1008.1 800.3,1007.8 797.8,1007.6 795.2,1007.7 792.6,1008.0 790.0,1008.6 787.4,1009.3 784.9,1010.0 782.4,1010.6 779.8,1011.0 777.2,1010.9 774.4,1010.4 771.5,1009.8 768.4,1009.2 765.3,1008.6 762.1,1008.4 758.9,1008.5 755.7,1009.0 755.8,1009.6 759.0,1009.3 762.1,1009.3 765.1,1009.8 768.2,1010.5 771.1,1011.3 774.1,1012.1 777.0,1012.7 779.8,1013.0 782.7,1012.9 785.4,1012.4 788.1,1011.9 790.6,1011.4 793.0,1011.1 795.3,1011.0 797.5,1011.1 799.7,1011.5 801.8,1012.1 803.9,1012.7 806.1,1013.3 808.1,1014.0"/><polygon points="808.4,1008.9 806.9,1009.9 805.3,1010.9 803.7,1012.1 802.1,1013.5 800.5,1014.9 798.9,1016.3 797.2,1017.6 795.4,1018.8 793.3,1019.8 791.0,1020.6 788.4,1021.1 785.5,1021.5 782.5,1022.0 779.5,1022.8 776.5,1023.9 773.6,1025.4 770.8,1027.2 768.0,1029.2 765.1,1031.5 762.2,1033.7 762.5,1034.2 765.6,1032.1 768.6,1030.1 771.5,1028.2 774.3,1026.6 777.2,1025.4 780.0,1024.6 782.9,1024.1 785.8,1023.9 788.7,1023.7 791.6,1023.3 794.3,1022.7 796.8,1021.8 799.1,1020.7 801.2,1019.4 803.0,1018.1 804.7,1016.9 806.3,1016.0 807.9,1015.2 809.4,1014.6 810.9,1014.1"/><polygon points="809.0,1009.7 808.1,1011.7 807.1,1013.7 806.2,1015.6 805.1,1017.4 803.9,1019.1 802.5,1020.7 800.8,1022.1 798.9,1023.6 796.8,1025.0 794.6,1026.6 792.5,1028.3 790.6,1030.3 788.9,1032.6 787.5,1035.1 786.0,1037.7 784.5,1040.2 782.8,1042.6 780.9,1044.8 778.6,1046.7 776.0,1048.3 776.3,1048.8 779.1,1047.4 781.6,1045.6 783.8,1043.5 785.8,1041.2 787.6,1038.7 789.3,1036.3 790.9,1034.0 792.6,1032.1 794.4,1030.6 796.4,1029.2 798.6,1028.0 800.9,1026.8 803.2,1025.5 805.3,1024.0 807.3,1022.4 809.1,1020.5 810.7,1018.6 812.1,1016.7 813.4,1014.9 814.7,1013.3"/><polygon points="811.2,1010.2 810.7,1012.5 810.1,1014.5 809.3,1016.5 808.3,1018.5 807.2,1020.6 806.0,1022.8 804.8,1025.1 803.8,1027.6 803.0,1030.1 802.5,1032.8 802.2,1035.5 802.0,1038.1 801.6,1040.6 800.9,1042.9 799.8,1045.1 798.3,1047.2 796.6,1049.2 794.6,1051.1 792.5,1053.0 790.5,1055.0 790.9,1055.5 793.1,1053.7 795.4,1052.0 797.6,1050.2 799.6,1048.4 801.5,1046.3 803.0,1043.9 804.1,1041.4 804.9,1038.7 805.4,1036.0 806.0,1033.5 806.8,1031.3 807.7,1029.2 808.8,1027.3 810.2,1025.4 811.6,1023.5 813.1,1021.5 814.6,1019.5 816.0,1017.2 817.2,1015.0 818.3,1012.8"/><polygon points="813.5,1010.8 813.5,1013.3 813.2,1015.7 812.9,1018.2 812.7,1020.8 812.7,1023.5 812.8,1026.1 813.1,1028.8 813.4,1031.3 813.7,1033.7 813.8,1036.1 813.6,1038.3 813.1,1040.5 812.1,1042.7 810.9,1044.9 809.5,1047.2 808.3,1049.5 807.3,1052.0 806.6,1054.4 806.2,1057.0 806.2,1059.6 806.8,1059.6 807.1,1057.1 807.7,1054.7 808.6,1052.5 809.9,1050.4 811.3,1048.4 812.9,1046.2 814.5,1044.1 815.9,1041.7 816.9,1039.1 817.5,1036.4 817.8,1033.7 817.9,1031.1 817.9,1028.5 818.0,1026.1 818.2,1023.8 818.6,1021.6 819.2,1019.3 819.9,1017.0 820.7,1014.6 821.4,1012.2"/><polygon points="816.3,1011.6 816.7,1014.3 817.2,1017.0 817.8,1019.7 818.6,1022.3 819.3,1024.7 819.9,1027.1 820.4,1029.4 820.7,1031.7 820.7,1034.0 820.4,1036.5 820.0,1039.1 819.6,1041.8 819.5,1044.6 819.8,1047.4 820.5,1050.0 821.6,1052.5 822.8,1054.9 824.2,1057.2 825.5,1059.5 826.6,1061.9 827.1,1061.7 826.3,1059.2 825.3,1056.7 824.2,1054.2 823.3,1051.8 822.6,1049.4 822.3,1047.0 822.3,1044.7 822.7,1042.3 823.4,1039.8 824.2,1037.2 824.8,1034.5 825.2,1031.8 825.3,1029.0 825.2,1026.3 824.9,1023.6 824.5,1021.0 824.3,1018.6 824.1,1016.2 824.2,1013.8 824.4,1011.4"/><polygon points="819.2,1012.7 820.2,1014.8 821.2,1017.0 822.1,1019.1 822.9,1021.1 823.5,1023.3 824.0,1025.5 824.4,1028.0 824.8,1030.5 825.4,1033.2 826.3,1035.8 827.5,1038.4 829.1,1040.7 831.0,1042.8 833.0,1044.8 834.8,1046.8 836.5,1048.8 838.0,1051.0 839.1,1053.3 840.0,1055.8 840.7,1058.6 841.3,1058.5 840.9,1055.6 840.2,1052.9 839.3,1050.3 838.0,1047.8 836.5,1045.5 834.8,1043.3 833.1,1041.1 831.6,1039.0 830.5,1036.9 829.8,1034.7 829.3,1032.4 829.1,1030.0 829.1,1027.5 829.0,1025.0 828.8,1022.4 828.5,1019.8 828.1,1017.3 827.5,1014.9 827.0,1012.6 826.6,1010.3"/><polygon points="822.0,1013.2 823.1,1014.7 824.1,1016.3 825.1,1018.1 826.1,1020.0 827.1,1022.1 828.4,1024.2 830.0,1026.2 831.8,1028.0 833.8,1029.7 835.9,1031.2 838.0,1032.6 840.1,1034.0 841.8,1035.6 843.3,1037.5 844.6,1039.7 845.7,1042.1 846.9,1044.7 848.1,1047.4 849.5,1050.1 851.1,1052.6 851.6,1052.3 850.2,1049.7 849.1,1047.0 848.2,1044.2 847.3,1041.5 846.3,1038.8 845.2,1036.3 843.7,1034.0 841.9,1031.9 839.9,1030.1 838.0,1028.5 836.2,1026.9 834.7,1025.2 833.4,1023.6 832.5,1021.8 831.7,1019.9 831.0,1018.0 830.4,1015.9 829.7,1013.8 829.0,1011.7 828.3,1009.8"/><polygon points="825.0,1013.6 826.6,1014.9 828.2,1016.4 830.0,1017.8 832.0,1019.2 834.1,1020.4 836.2,1021.5 838.4,1022.5 840.5,1023.5 842.5,1024.6 844.4,1025.9 846.1,1027.5 847.7,1029.4 849.3,1031.7 851.0,1034.0 852.8,1036.2 854.9,1038.3 857.3,1040.0 859.8,1041.5 862.6,1042.7 865.6,1043.7 865.8,1043.1 863.0,1041.9 860.3,1040.6 858.0,1039.0 855.9,1037.2 854.2,1035.1 852.6,1032.8 851.2,1030.5 849.8,1028.0 848.2,1025.7 846.4,1023.7 844.4,1022.0 842.3,1020.5 840.2,1019.2 838.2,1017.9 836.3,1016.7 834.7,1015.5 833.3,1014.1 832.0,1012.6 830.8,1011.1 829.6,1009.4"/><polygon points="828.9,1014.2 831.1,1014.6 833.4,1014.9 835.7,1015.2 838.0,1015.6 840.2,1016.0 842.4,1016.6 844.6,1017.5 846.8,1018.7 849.0,1020.1 851.2,1021.8 853.5,1023.5 856.0,1025.2 858.8,1026.5 861.8,1027.4 864.9,1028.1 868.1,1028.7 871.4,1029.2 874.6,1030.0 877.9,1030.9 881.0,1032.3 881.2,1031.7 878.2,1030.2 874.9,1029.0 871.6,1028.1 868.4,1027.3 865.2,1026.5 862.3,1025.7 859.6,1024.6 857.2,1023.2 855.0,1021.5 852.9,1019.7 850.8,1017.8 848.5,1016.0 846.2,1014.5 843.8,1013.2 841.3,1012.2 838.9,1011.5 836.6,1010.8 834.4,1010.2 832.4,1009.6 830.5,1008.8"/><polygon points="832.9,1013.9 834.6,1013.3 836.3,1012.8 838.2,1012.6 840.2,1012.6 842.4,1012.9 844.8,1013.4 847.4,1014.1 850.2,1014.7 853.2,1015.3 856.4,1015.6 859.8,1015.8 863.3,1015.7 867.0,1015.6 870.8,1015.8 874.7,1016.2 878.6,1017.1 882.6,1018.5 886.6,1020.3 890.7,1022.4 894.8,1024.8 895.1,1024.3 891.0,1021.8 887.0,1019.4 883.0,1017.4 879.0,1015.9 875.0,1014.8 871.0,1014.1 867.1,1013.8 863.3,1013.7 859.8,1013.5 856.6,1013.2 853.7,1012.7 850.9,1011.9 848.3,1011.1 845.7,1010.2 843.2,1009.4 840.7,1008.9 838.2,1008.6 835.8,1008.5 833.6,1008.8 831.6,1009.1"/><polygon points="787.2,1009.5 786.1,1010.1 785.0,1010.8 783.8,1011.7 782.8,1012.9 782.3,1014.3 782.0,1015.6 781.6,1016.7 780.9,1017.4 779.6,1018.0 778.2,1018.7 777.0,1019.7 776.4,1021.0 776.8,1021.3 777.5,1020.2 778.6,1019.4 780.0,1018.8 781.5,1018.3 782.6,1017.4 783.3,1016.1 783.8,1014.8 784.3,1013.8 785.0,1013.1 786.0,1012.6 787.1,1012.2 788.3,1011.8"/><polygon points="774.7,1010.5 774.0,1010.1 773.1,1009.9 772.2,1009.8 771.6,1009.7 771.2,1009.5 770.9,1008.8 770.8,1007.8 770.7,1006.8 770.0,1006.0 769.0,1005.8 767.9,1005.7 766.8,1005.6 766.7,1006.1 767.8,1006.3 768.9,1006.5 769.6,1006.7 769.9,1007.0 769.9,1007.9 769.9,1009.0 770.2,1010.1 771.0,1010.8 771.9,1011.1 772.7,1011.3 773.3,1011.6 773.7,1012.0"/><polygon points="794.0,1020.0 792.7,1019.9 791.3,1019.9 790.0,1020.1 788.6,1020.4 787.5,1020.7 786.4,1020.6 785.5,1020.1 784.5,1019.0 783.6,1017.8 782.4,1017.0 781.1,1016.6 779.5,1016.6 779.5,1017.1 781.0,1017.3 782.1,1017.7 782.9,1018.5 783.7,1019.6 784.6,1021.0 785.9,1021.9 787.5,1022.2 788.9,1022.1 790.2,1022.0 791.3,1022.0 792.4,1022.2 793.6,1022.5"/><polygon points="796.7,1025.6 795.9,1026.7 795.3,1028.1 794.9,1029.4 794.6,1030.6 794.2,1031.5 793.5,1032.3 792.3,1033.3 791.2,1034.5 790.8,1036.0 791.0,1037.5 791.6,1039.0 792.3,1040.5 792.7,1040.3 792.2,1038.8 791.8,1037.4 791.7,1036.1 792.1,1035.0 793.1,1034.2 794.3,1033.4 795.5,1032.4 796.2,1031.2 796.7,1030.0 797.2,1028.9 797.8,1028.1 798.6,1027.4"/><polygon points="787.6,1035.2 787.3,1035.8 787.0,1036.3 786.5,1036.6 785.9,1036.7 785.0,1036.7 784.0,1037.0 783.3,1037.8 783.0,1038.9 782.7,1039.9 782.3,1040.5 781.7,1040.7 780.7,1040.4 780.6,1040.8 781.6,1041.3 782.6,1041.1 783.4,1040.3 783.8,1039.2 784.2,1038.3 784.5,1037.9 785.1,1037.9 785.9,1038.0 786.9,1037.9 787.9,1037.5 788.6,1036.9 789.1,1036.2"/><polygon points="803.8,1030.0 803.3,1031.2 802.8,1032.4 802.3,1033.3 801.6,1034.0 800.5,1034.5 799.2,1034.9 797.9,1035.4 796.8,1036.4 796.1,1037.8 795.5,1039.2 794.7,1040.3 793.6,1041.0 793.9,1041.5 795.1,1040.8 796.2,1039.6 797.0,1038.2 797.7,1037.1 798.5,1036.5 799.6,1036.2 801.0,1036.0 802.4,1035.5 803.7,1034.6 804.6,1033.4 805.3,1032.3 806.0,1031.4"/><polygon points="814.6,1034.3 815.3,1035.3 815.9,1036.3 816.3,1037.3 816.6,1038.5 816.9,1040.0 817.6,1041.4 818.8,1042.4 820.4,1042.9 821.8,1043.2 822.9,1043.7 823.7,1044.5 824.4,1045.8 824.8,1045.6 824.3,1044.2 823.4,1043.0 822.2,1042.3 820.7,1041.8 819.5,1041.3 818.7,1040.5 818.4,1039.5 818.3,1038.3 818.2,1036.9 817.8,1035.5 817.3,1034.3 816.9,1033.1"/><polygon points="811.4,1044.9 810.9,1045.3 810.3,1045.6 809.5,1046.0 808.8,1046.6 808.4,1047.5 808.1,1048.5 807.8,1049.2 807.3,1049.5 806.5,1049.3 805.5,1048.8 804.5,1048.3 803.6,1048.3 803.6,1048.8 804.3,1048.9 805.2,1049.4 806.2,1050.0 807.4,1050.3 808.4,1049.9 809.0,1048.9 809.4,1048.0 809.8,1047.4 810.2,1047.2 810.8,1047.0 811.7,1046.7 812.4,1046.3"/><polygon points="821.5,1033.8 821.3,1034.9 820.8,1035.8 820.0,1036.7 819.1,1037.6 818.3,1038.7 817.8,1040.1 817.6,1041.6 817.2,1042.9 816.6,1043.8 815.5,1044.3 814.0,1044.6 812.4,1044.7 812.4,1045.2 814.0,1045.2 815.6,1045.1 817.1,1044.5 818.2,1043.4 818.8,1041.9 819.1,1040.5 819.6,1039.5 820.3,1038.8 821.3,1038.1 822.4,1037.2 823.3,1036.0 823.9,1034.8"/><polygon points="826.2,1033.4 826.9,1034.4 827.5,1035.5 828.2,1036.7 829.3,1037.8 830.7,1038.5 832.1,1038.9 833.3,1039.2 834.1,1039.7 834.7,1040.8 835.3,1042.3 836.2,1043.6 837.4,1044.5 837.7,1044.1 836.7,1043.2 836.1,1041.9 835.5,1040.5 834.9,1039.1 833.9,1038.1 832.5,1037.6 831.3,1037.1 830.4,1036.5 829.8,1035.7 829.4,1034.6 829.0,1033.4 828.5,1032.2"/><polygon points="833.0,1044.3 833.3,1045.1 833.9,1045.9 834.5,1046.5 835.1,1047.0 835.4,1047.4 835.3,1047.9 834.9,1048.8 834.3,1049.7 834.0,1050.7 834.5,1051.5 835.3,1052.3 836.2,1053.0 836.6,1052.6 835.7,1051.8 835.0,1051.1 834.8,1050.6 835.0,1050.1 835.7,1049.3 836.3,1048.3 836.5,1047.2 836.1,1046.2 835.5,1045.5 835.1,1045.0 834.8,1044.4 834.7,1043.8"/><polygon points="833.8,1028.8 834.4,1029.9 835.0,1031.0 835.8,1032.2 836.7,1033.2 837.7,1034.1 838.3,1035.0 838.5,1036.0 838.1,1037.3 837.5,1038.7 837.2,1040.1 837.3,1041.5 838.0,1042.9 838.4,1042.7 837.9,1041.4 838.0,1040.3 838.4,1039.1 839.1,1037.7 839.7,1036.2 839.6,1034.6 838.9,1033.2 838.0,1032.1 837.3,1031.1 836.9,1030.1 836.5,1029.0 836.2,1027.8"/><polygon points="843.0,1024.5 844.3,1024.9 845.8,1025.0 847.2,1024.8 848.5,1024.6 849.5,1024.4 850.5,1024.7 851.8,1025.3 853.2,1026.0 854.8,1026.1 856.2,1025.5 857.4,1024.4 858.5,1023.2 858.2,1022.8 857.0,1023.9 855.8,1024.8 854.7,1025.1 853.5,1024.9 852.3,1024.2 851.1,1023.4 849.7,1022.9 848.3,1022.8 847.0,1022.9 845.9,1022.9 844.9,1022.6 844.0,1022.1"/><polygon points="851.0,1033.9 851.5,1034.5 851.9,1035.0 852.0,1035.5 851.9,1036.1 851.6,1036.9 851.3,1037.8 851.5,1038.8 852.3,1039.6 853.2,1040.3 853.8,1041.0 853.9,1041.6 853.4,1042.3 853.8,1042.6 854.4,1041.8 854.4,1040.7 853.8,1039.8 852.9,1039.0 852.3,1038.3 852.3,1037.9 852.6,1037.4 853.1,1036.5 853.4,1035.5 853.3,1034.5 852.9,1033.7 852.6,1032.9"/><polygon points="848.8,1019.7 849.7,1020.7 850.6,1021.6 851.4,1022.4 851.9,1023.3 852.1,1024.3 852.0,1025.6 851.8,1027.1 852.1,1028.5 853.0,1029.7 854.1,1030.8 855.1,1032.0 855.6,1033.2 856.0,1033.1 855.6,1031.7 854.7,1030.3 853.8,1029.1 853.1,1028.1 853.1,1027.1 853.4,1025.9 853.7,1024.4 853.6,1022.8 853.0,1021.4 852.2,1020.2 851.5,1019.3 850.9,1018.2"/><polygon points="853.8,1015.2 855.0,1014.7 856.1,1014.3 857.1,1014.0 858.3,1013.9 859.7,1013.9 861.2,1013.6 862.6,1012.8 863.5,1011.4 864.1,1010.0 864.7,1008.8 865.5,1008.0 866.7,1007.5 866.6,1007.0 865.2,1007.4 864.1,1008.3 863.3,1009.5 862.6,1010.9 861.8,1011.9 860.8,1012.3 859.7,1012.3 858.3,1012.1 856.9,1012.1 855.6,1012.2 854.3,1012.5 853.1,1012.7"/><polygon points="870.5,1015.8 871.1,1015.9 871.6,1016.3 872.2,1016.8 873.1,1017.3 874.1,1017.4 875.1,1017.2 876.0,1017.0 876.5,1017.2 876.8,1017.8 876.9,1018.9 876.9,1020.0 877.1,1020.9 877.6,1020.8 877.5,1020.0 877.6,1018.9 877.6,1017.7 877.2,1016.6 876.1,1016.1 875.0,1016.1 874.1,1016.2 873.5,1016.1 873.1,1015.8 872.7,1015.2 872.0,1014.5 871.2,1014.1"/></g>
<text x="824" y="983.6" text-anchor="middle" font-family="'DejaVu Sans','Liberation Sans',sans-serif" font-size="15.1" fill="#2c2a6c" stroke="#2c2a6c" stroke-width="0.55" textLength="124.2" lengthAdjust="spacingAndGlyphs" letter-spacing="0.4">COLCHESTER</text>
<text x="824.3" y="1001.5" text-anchor="middle" font-family="'DejaVu Sans','Liberation Sans',sans-serif" font-size="15.4" fill="#2c2a6c" stroke="#2c2a6c" stroke-width="0.55" textLength="167.4" lengthAdjust="spacingAndGlyphs" letter-spacing="0.4">PUBLIC SCHOOLS</text>
</svg>
<aside class="side">
<section class="keydates">
<div class="t" style="top:218px;line-height:19px;font-size:16.46px;letter-spacing:0.20px;color:#fff;-webkit-text-stroke:1.23px #fff;left:974.05px;">August 28</div>
<div class="t" style="top:253px;line-height:19px;font-size:16.46px;letter-spacing:0.64px;color:#fff;-webkit-text-stroke:1.23px #fff;left:975.04px;">June 11</div>
<div class="t" style="top:218px;line-height:19px;font-size:16.60px;letter-spacing:0.28px;color:#fff;-webkit-text-stroke:0.66px #fff;left:1253.77px;">First Day of School for Students</div>
<div class="t" style="top:253px;line-height:19px;font-size:16.60px;letter-spacing:0.28px;color:#fff;-webkit-text-stroke:0.66px #fff;left:1253.77px;">Last Day of School for Students</div>
</section>
<section class="holidays">
<h2 class="t sec" style="top:307px;line-height:19px;font-size:15.64px;letter-spacing:0.55px;color:#0b5394;-webkit-text-stroke:1.17px #0b5394;transform:scaleX(1.1419);transform-origin:0 0;left:1148.80px;">HOLIDAYS/NO SCHOOL</h2>
<div class="t hl" style="top:335px;line-height:16px;font-size:14.27px;letter-spacing:0.10px;-webkit-text-stroke:1.07px #000;left:973.01px;">September 1</div>
<div class="t hr" style="top:335px;line-height:16px;font-size:14.13px;letter-spacing:0.25px;-webkit-text-stroke:0.57px #000;left:1253.97px;">Labor Day</div>
<div class="t hl" style="top:362px;line-height:16px;font-size:14.27px;letter-spacing:0.12px;-webkit-text-stroke:1.07px #000;left:973.01px;">October 13</div>
<div class="t hr" style="top:362px;line-height:16px;font-size:14.13px;letter-spacing:0.16px;-webkit-text-stroke:0.57px #000;left:1253.97px;">Columbus Day</div>
<div class="t hl" style="top:389px;line-height:16px;font-size:14.27px;letter-spacing:0.39px;-webkit-text-stroke:1.07px #000;left:973.01px;">November 4</div>
<div class="t hr" style="top:389px;line-height:16px;font-size:14.13px;letter-spacing:0.01px;-webkit-text-stroke:0.57px #000;left:1253.97px;">Election Day, K-5 Conferences/6-12 PD</div>
<div class="t hl" style="top:416px;line-height:16px;font-size:14.27px;letter-spacing:0.12px;-webkit-text-stroke:1.07px #000;left:973.01px;">November 11</div>
<div class="t hr" style="top:416px;line-height:16px;font-size:14.13px;letter-spacing:0.16px;-webkit-text-stroke:0.57px #000;left:1253.97px;">Veterans Day</div>
<div class="t hl" style="top:448px;line-height:16px;font-size:14.27px;letter-spacing:0.05px;-webkit-text-stroke:1.07px #000;left:973.01px;">November 27-28</div>
<div class="t hr" style="top:448px;line-height:16px;font-size:14.13px;letter-spacing:-0.07px;-webkit-text-stroke:0.57px #000;left:1253.97px;">Thanksgiving Recess</div>
<div class="t hl" style="top:477px;line-height:16px;font-size:14.27px;letter-spacing:0.49px;-webkit-text-stroke:1.07px #000;left:973.01px;">December 24-January 2</div>
<div class="t hr" style="top:477px;line-height:16px;font-size:14.13px;letter-spacing:0.15px;-webkit-text-stroke:0.57px #000;left:1253.97px;">Winter Recess / New Year&#x27;s Day</div>
<div class="t hl" style="top:504px;line-height:16px;font-size:14.27px;letter-spacing:0.57px;-webkit-text-stroke:1.07px #000;left:974.65px;">January 19</div>
<div class="t hr" style="top:504px;line-height:16px;font-size:14.13px;letter-spacing:0.16px;-webkit-text-stroke:0.57px #000;left:1253.97px;">Martin Luther King Jr. Day</div>
<div class="t hl" style="top:531px;line-height:16px;font-size:14.27px;letter-spacing:0.25px;-webkit-text-stroke:1.07px #000;left:973.01px;">February 13-17</div>
<div class="t hr" style="top:531px;line-height:16px;font-size:14.13px;letter-spacing:0.14px;-webkit-text-stroke:0.57px #000;left:1253.97px;">Presidents&#x27; Day / School Holiday</div>
<div class="t hl" style="top:558px;line-height:16px;font-size:14.27px;letter-spacing:0.29px;-webkit-text-stroke:1.07px #000;left:973.01px;">March 6</div>
<div class="t hr" style="top:558px;line-height:16px;font-size:14.13px;letter-spacing:0.16px;-webkit-text-stroke:0.57px #000;left:1253.97px;">PD Day for Staff</div>
<div class="t hl" style="top:585px;line-height:16px;font-size:14.27px;letter-spacing:0.30px;-webkit-text-stroke:1.07px #000;left:973.01px;">April 3</div>
<div class="t hr" style="top:585px;line-height:16px;font-size:14.13px;letter-spacing:0.16px;-webkit-text-stroke:0.57px #000;left:1253.97px;">Good Friday</div>
<div class="t hl" style="top:612px;line-height:16px;font-size:14.27px;letter-spacing:-0.05px;-webkit-text-stroke:1.07px #000;left:973.01px;">April 13-17</div>
<div class="t hr" style="top:612px;line-height:16px;font-size:14.13px;letter-spacing:0.16px;-webkit-text-stroke:0.57px #000;left:1253.97px;">Spring Recess</div>
<div class="t hl" style="top:645px;line-height:16px;font-size:14.27px;letter-spacing:0.19px;-webkit-text-stroke:1.07px #000;left:973.01px;">May 25</div>
<div class="t hr" style="top:647px;line-height:16px;font-size:14.13px;letter-spacing:0.16px;-webkit-text-stroke:0.57px #000;left:1253.97px;">Memorial Day</div>
<div class="t hl" style="top:673px;line-height:16px;font-size:14.27px;letter-spacing:0.32px;-webkit-text-stroke:1.07px #000;left:974.65px;">June 19</div>
<div class="t hr" style="top:675px;line-height:16px;font-size:14.13px;letter-spacing:0.39px;-webkit-text-stroke:0.57px #000;left:1256.09px;">Juneteenth</div>
</section>
<section class="early">
<h2 class="t sec" style="top:728px;line-height:18px;font-size:15.09px;letter-spacing:0.53px;color:#0b5394;-webkit-text-stroke:1.13px #0b5394;transform:scaleX(1.1370);transform-origin:0 0;left:1004.65px;">EARLY RELEASE DAYS</h2>
<div class="t sm" style="top:755px;line-height:14px;font-size:11.93px;letter-spacing:0.56px;-webkit-text-stroke:0.90px #000;left:973.27px;">September 19</div>
<div class="t sm" style="top:783px;line-height:14px;font-size:11.93px;letter-spacing:0.66px;-webkit-text-stroke:0.90px #000;left:973.27px;">October 10</div>
<div class="t sm" style="top:810px;line-height:14px;font-size:11.93px;letter-spacing:0.77px;-webkit-text-stroke:0.90px #000;left:973.27px;">October 30, 6-12 Conferences/K-5 PD</div>
<div class="t sm" style="top:840px;line-height:14px;font-size:11.93px;letter-spacing:0.66px;-webkit-text-stroke:0.90px #000;left:973.27px;">November 26</div>
<div class="t sm" style="top:870px;line-height:14px;font-size:11.93px;letter-spacing:0.66px;-webkit-text-stroke:0.90px #000;left:973.27px;">December 22</div>
<div class="t sm" style="top:897px;line-height:14px;font-size:11.93px;letter-spacing:0.66px;-webkit-text-stroke:0.90px #000;left:973.27px;">December 23</div>
<div class="t sm" style="top:924px;line-height:14px;font-size:11.93px;letter-spacing:1.02px;-webkit-text-stroke:0.90px #000;left:974.64px;">January 16</div>
<div class="t sm" style="top:951px;line-height:14px;font-size:11.93px;letter-spacing:1.00px;-webkit-text-stroke:0.90px #000;left:973.27px;">February 12</div>
<div class="t sm" style="top:979px;line-height:14px;font-size:11.93px;letter-spacing:0.66px;-webkit-text-stroke:0.90px #000;left:973.27px;">March 5</div>
<div class="t sm" style="top:1006px;line-height:14px;font-size:11.93px;letter-spacing:0.65px;-webkit-text-stroke:0.90px #000;left:973.27px;">March 24, K-12 Conferences</div>
<div class="t sm" style="top:1035px;line-height:14px;font-size:11.93px;letter-spacing:0.66px;-webkit-text-stroke:0.90px #000;left:973.27px;">May 1</div>
<div class="t sm" style="top:1062px;line-height:14px;font-size:11.93px;letter-spacing:0.66px;-webkit-text-stroke:0.90px #000;left:973.27px;">May 22</div>
<div class="t sm" style="top:1090px;line-height:14px;font-size:11.93px;letter-spacing:1.13px;-webkit-text-stroke:0.90px #000;left:974.64px;">June 10</div>
<div class="t sm" style="top:1118px;line-height:14px;font-size:11.93px;letter-spacing:0.93px;-webkit-text-stroke:0.90px #000;left:974.64px;">June 11</div>
</section>
<section class="staff">
<h2 class="t sec" style="top:727px;line-height:18px;font-size:15.09px;letter-spacing:0.53px;color:#0b5394;-webkit-text-stroke:1.13px #0b5394;transform:scaleX(1.1429);transform-origin:0 0;left:1313.14px;">STAFF WORK DAYS</h2>
<div class="t sm" style="top:756px;line-height:14px;font-size:11.93px;letter-spacing:0.64px;-webkit-text-stroke:0.90px #000;left:1254.83px;">August 25, Professional Development</div>
<div class="t sm" style="top:784px;line-height:14px;font-size:11.93px;letter-spacing:0.66px;-webkit-text-stroke:0.90px #000;left:1254.83px;">August 26, Professional Development</div>
<div class="t sm" style="top:811px;line-height:14px;font-size:11.93px;letter-spacing:0.66px;-webkit-text-stroke:0.90px #000;left:1254.83px;">August 27, Professional Development</div>
<div class="t sm" style="top:844px;line-height:14px;font-size:11.93px;letter-spacing:0.80px;-webkit-text-stroke:0.90px #000;left:1254.83px;">November 4, K-5 Conferences/6-12 PD</div>
<div class="t sm" style="top:872px;line-height:14px;font-size:11.93px;letter-spacing:0.66px;-webkit-text-stroke:0.90px #000;left:1254.83px;">March 6, Professional Development</div>
<div class="t sm" style="top:901px;line-height:14px;font-size:11.93px;letter-spacing:0.72px;-webkit-text-stroke:0.90px #000;left:1255.54px;">June 12, Professional Development</div>
</section>
<section class="late">
<h2 class="t sec" style="top:977px;line-height:19px;font-size:15.78px;letter-spacing:0.55px;color:#0b5394;-webkit-text-stroke:1.18px #0b5394;transform:scaleX(1.1105);transform-origin:0 0;left:1305.74px;">LATE ARRIVAL DAYS</h2>
<div class="t sm" style="top:1008px;line-height:14px;font-size:11.93px;letter-spacing:0.64px;-webkit-text-stroke:0.90px #000;left:1254.83px;">November 7, 6-12 Conferences, K-5 PD</div>
<div class="t sm" style="top:1036px;line-height:14px;font-size:11.93px;letter-spacing:0.64px;-webkit-text-stroke:0.90px #000;left:1254.83px;">March 26, K-12 Conferences</div>
</section>
</aside>
</main>
</body></html>
